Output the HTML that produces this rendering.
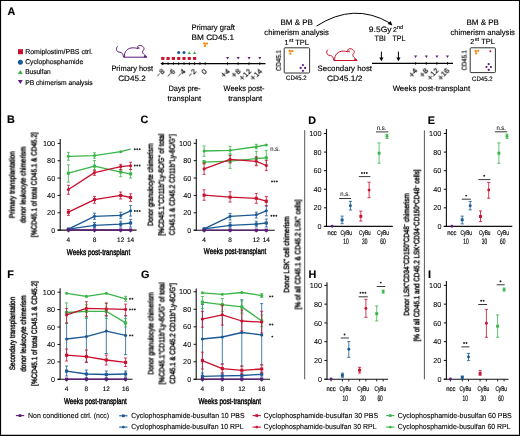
<!DOCTYPE html>
<html><head><meta charset="utf-8"><style>
html,body{margin:0;padding:0;background:#fff;}
svg{display:block;}
text{font-family:"Liberation Sans",sans-serif;fill:#000000;will-change:transform;text-rendering:geometricPrecision;stroke:#000;stroke-width:0.15px;}
.h{stroke-width:0.4px;}
.m{stroke-width:0.2px;}
.l{stroke-width:0.05px;}
.lg{stroke-width:0.1px;}
</style></head><body>
<svg xmlns="http://www.w3.org/2000/svg" width="520" height="436" viewBox="0 0 520 436">
<rect x="0" y="0" width="520" height="436" fill="#fff"/>
<text x="7.60" y="15.20" font-size="10.8" font-weight="bold" fill="#000" >A</text>
<rect x="18.00" y="49.20" width="5.00" height="5.00" fill="#c8102e"/>
<text x="25.20" y="54.30" font-size="7" textLength="67.50" lengthAdjust="spacingAndGlyphs" >Romiplostim/PBS ctrl.</text>
<circle cx="20.35" cy="62.30" r="2.5" fill="#1b5a96"/>
<text x="25.20" y="64.40" font-size="7" textLength="58.00" lengthAdjust="spacingAndGlyphs" >Cyclophosphamide</text>
<path d="M17.8,74.1 L22.9,74.1 L20.35,70.0 Z" fill="#3ab54a" stroke="none" stroke-width="1" />
<text x="25.20" y="74.30" font-size="7" textLength="25.50" lengthAdjust="spacingAndGlyphs" >Busulfan</text>
<path d="M17.9,79.9 L22.7,79.9 L20.3,84.1 Z" fill="#5b1a78" stroke="none" stroke-width="1" />
<text x="25.20" y="84.50" font-size="7" textLength="67.50" lengthAdjust="spacingAndGlyphs" >PB chimerism analysis</text>
<path d="M117.5,46.3 C116.0,48 116.0,51.4 118.4,51.9 C120.6,52.3 122.4,52.8 122.9,54.6 L123.6,57.2 L146.9,57.2 M124.3,57.2 C124.0,51.2 128.0,47.9 132.8,47.8 C135.0,47.8 136.6,48.2 137.9,48.7 C136.9,47.3 137.7,45.5 139.5,45.4 C141.4,45.3 142.7,46.3 143.6,47.4 C144.4,48.6 144.0,50.0 142.6,51.1 C142.3,52.4 142.9,53.3 143.6,54.0 L146.9,57.2 M138.7,47.1 L139.0,48.9" fill="none" stroke="#5b1a78" stroke-width="1.0" stroke-linejoin="round"/>
<path d="M144.2,55.0 L147.2,57.2 L143.8,57.2 Z" fill="#5b1a78" stroke="none" stroke-width="1" />
<text x="132.20" y="71.00" font-size="7.8" text-anchor="middle" textLength="41.50" lengthAdjust="spacingAndGlyphs" >Primary host</text>
<text x="132.00" y="80.60" font-size="7.8" text-anchor="middle" textLength="27.50" lengthAdjust="spacingAndGlyphs" >CD45.2</text>
<line x1="160.90" y1="63.60" x2="265.50" y2="63.60" stroke="#000" stroke-width="1.2" />
<path d="M160.4,63.6 L163.2,62.1 L163.2,65.1 Z" fill="#000" stroke="none" stroke-width="1" />
<line x1="162.80" y1="62.10" x2="162.80" y2="65.10" stroke="#000" stroke-width="0.8" />
<line x1="168.10" y1="62.10" x2="168.10" y2="65.10" stroke="#000" stroke-width="0.8" />
<line x1="173.40" y1="62.10" x2="173.40" y2="65.10" stroke="#000" stroke-width="0.8" />
<line x1="178.70" y1="62.10" x2="178.70" y2="65.10" stroke="#000" stroke-width="0.8" />
<line x1="184.00" y1="62.10" x2="184.00" y2="65.10" stroke="#000" stroke-width="0.8" />
<line x1="189.30" y1="62.10" x2="189.30" y2="65.10" stroke="#000" stroke-width="0.8" />
<line x1="194.60" y1="62.10" x2="194.60" y2="65.10" stroke="#000" stroke-width="0.8" />
<line x1="199.90" y1="62.10" x2="199.90" y2="65.10" stroke="#000" stroke-width="0.8" />
<line x1="205.20" y1="62.10" x2="205.20" y2="65.10" stroke="#000" stroke-width="0.8" />
<line x1="227.60" y1="62.10" x2="227.60" y2="65.10" stroke="#000" stroke-width="0.8" />
<line x1="238.20" y1="62.10" x2="238.20" y2="65.10" stroke="#000" stroke-width="0.8" />
<line x1="249.00" y1="62.10" x2="249.00" y2="65.10" stroke="#000" stroke-width="0.8" />
<line x1="259.80" y1="62.10" x2="259.80" y2="65.10" stroke="#000" stroke-width="0.8" />
<rect x="161.20" y="57.00" width="3.20" height="2.90" fill="#c8102e"/>
<rect x="166.50" y="57.00" width="3.20" height="2.90" fill="#c8102e"/>
<rect x="171.80" y="57.00" width="3.20" height="2.90" fill="#c8102e"/>
<rect x="177.10" y="57.00" width="3.20" height="2.90" fill="#c8102e"/>
<rect x="182.40" y="57.00" width="3.20" height="2.90" fill="#c8102e"/>
<rect x="187.70" y="57.00" width="3.20" height="2.90" fill="#c8102e"/>
<rect x="193.00" y="57.00" width="3.20" height="2.90" fill="#c8102e"/>
<circle cx="178.70" cy="52.60" r="1.5" fill="#1b5a96"/>
<circle cx="184.00" cy="52.60" r="1.5" fill="#1b5a96"/>
<path d="M187.70,54.0 L190.90,54.0 L189.30,51.2 Z" fill="#3ab54a" stroke="none" stroke-width="1" />
<path d="M193.00,54.0 L196.20,54.0 L194.60,51.2 Z" fill="#3ab54a" stroke="none" stroke-width="1" />
<path d="M226.10,57.0 L229.10,57.0 L227.60,59.6 Z" fill="#5b1a78" stroke="none" stroke-width="1" />
<path d="M236.70,57.0 L239.70,57.0 L238.20,59.6 Z" fill="#5b1a78" stroke="none" stroke-width="1" />
<path d="M247.50,57.0 L250.50,57.0 L249.00,59.6 Z" fill="#5b1a78" stroke="none" stroke-width="1" />
<path d="M258.30,57.0 L261.30,57.0 L259.80,59.6 Z" fill="#5b1a78" stroke="none" stroke-width="1" />
<text x="164.80" y="71.70" font-size="7.5" text-anchor="end" class="m" transform="rotate(-45 164.80 71.70)"><tspan>−</tspan><tspan dx="0.3">8</tspan></text>
<text x="175.40" y="71.70" font-size="7.5" text-anchor="end" class="m" transform="rotate(-45 175.40 71.70)"><tspan>−</tspan><tspan dx="0.3">6</tspan></text>
<text x="186.00" y="71.70" font-size="7.5" text-anchor="end" class="m" transform="rotate(-45 186.00 71.70)"><tspan>−</tspan><tspan dx="0.3">4</tspan></text>
<text x="196.60" y="71.70" font-size="7.5" text-anchor="end" class="m" transform="rotate(-45 196.60 71.70)"><tspan>−</tspan><tspan dx="0.3">2</tspan></text>
<text x="207.20" y="71.70" font-size="7.5" class="m" text-anchor="end" transform="rotate(-45 207.20 71.70)" >0</text>
<text x="230.20" y="71.60" font-size="7.4" text-anchor="end" class="m" transform="rotate(-45 230.20 71.60)"><tspan font-size="8.88" dy="0.6">+</tspan><tspan dx="0.2" dy="-0.6">4</tspan></text>
<text x="240.80" y="71.60" font-size="7.4" text-anchor="end" class="m" transform="rotate(-45 240.80 71.60)"><tspan font-size="8.88" dy="0.6">+</tspan><tspan dx="0.2" dy="-0.6">8</tspan></text>
<text x="251.60" y="71.60" font-size="7.4" text-anchor="end" class="m" transform="rotate(-45 251.60 71.60)"><tspan font-size="8.88" dy="0.6">+</tspan><tspan dx="0.2" dy="-0.6">12</tspan></text>
<text x="262.40" y="71.60" font-size="7.4" text-anchor="end" class="m" transform="rotate(-45 262.40 71.60)"><tspan font-size="8.88" dy="0.6">+</tspan><tspan dx="0.2" dy="-0.6">14</tspan></text>
<circle cx="204.30" cy="43.50" r="1.15" fill="#f58200"/>
<circle cx="207.10" cy="43.50" r="1.05" fill="#f58200"/>
<circle cx="204.90" cy="46.10" r="1.15" fill="#f58200"/>
<circle cx="205.70" cy="43.90" r="0.8" fill="#f58200"/>
<text x="213.20" y="30.20" font-size="7.8" text-anchor="middle" textLength="43.50" lengthAdjust="spacingAndGlyphs" >Primary graft</text>
<text x="212.80" y="40.20" font-size="7.8" text-anchor="middle" textLength="42.50" lengthAdjust="spacingAndGlyphs" >BM CD45.1</text>
<text x="184.50" y="90.80" font-size="7.8" text-anchor="middle" textLength="32.20" lengthAdjust="spacingAndGlyphs" >Days pre-</text>
<text x="184.30" y="100.80" font-size="7.8" text-anchor="middle" textLength="33.50" lengthAdjust="spacingAndGlyphs" >transplant</text>
<text x="244.00" y="90.80" font-size="7.8" text-anchor="middle" textLength="40.80" lengthAdjust="spacingAndGlyphs" >Weeks post-</text>
<text x="245.20" y="100.80" font-size="7.8" text-anchor="middle" textLength="34.00" lengthAdjust="spacingAndGlyphs" >transplant</text>
<text x="296.70" y="25.10" font-size="7.8" text-anchor="middle" textLength="32.50" lengthAdjust="spacingAndGlyphs" >BM &amp; PB</text>
<text x="296.60" y="34.90" font-size="7.8" text-anchor="middle" textLength="64.50" lengthAdjust="spacingAndGlyphs" >chimerism analysis</text>
<text x="284.60" y="44.60" font-size="7.2" >1</text>
<text x="289.00" y="41.60" font-size="5.0" textLength="4.20" lengthAdjust="spacingAndGlyphs" >st</text>
<text x="295.30" y="44.60" font-size="7.6" textLength="13.60" lengthAdjust="spacingAndGlyphs" >TPL</text>
<rect x="284.20" y="47.80" width="25.40" height="25.20" rx="0.8" fill="none" stroke="#333" stroke-width="1"/>
<circle cx="289.70" cy="51.00" r="1.15" fill="#f58200"/>
<circle cx="292.50" cy="51.00" r="1.05" fill="#f58200"/>
<circle cx="290.30" cy="53.60" r="1.15" fill="#f58200"/>
<circle cx="291.10" cy="51.40" r="0.8" fill="#f58200"/>
<circle cx="302.90" cy="65.00" r="1.1" fill="#5b1a78"/>
<circle cx="300.70" cy="67.90" r="1.1" fill="#5b1a78"/>
<circle cx="305.10" cy="67.90" r="1.1" fill="#5b1a78"/>
<circle cx="302.90" cy="70.80" r="1.1" fill="#5b1a78"/>
<text x="281.30" y="60.40" font-size="7.0" class="m" text-anchor="middle" textLength="21.00" lengthAdjust="spacingAndGlyphs" transform="rotate(-90 281.30 60.40)" >CD45.1</text>
<text x="296.30" y="79.80" font-size="6.5" text-anchor="middle" textLength="20.50" lengthAdjust="spacingAndGlyphs" >CD45.2</text>
<g transform="translate(210.3,3.3)">
<path d="M117.5,46.3 C116.0,48 116.0,51.4 118.4,51.9 C120.6,52.3 122.4,52.8 122.9,54.6 L123.6,57.2 L146.9,57.2 M124.3,57.2 C124.0,51.2 128.0,47.9 132.8,47.8 C135.0,47.8 136.6,48.2 137.9,48.7 C136.9,47.3 137.7,45.5 139.5,45.4 C141.4,45.3 142.7,46.3 143.6,47.4 C144.4,48.6 144.0,50.0 142.6,51.1 C142.3,52.4 142.9,53.3 143.6,54.0 L146.9,57.2 M138.7,47.1 L139.0,48.9" fill="none" stroke="#c8102e" stroke-width="1.0" stroke-linejoin="round"/>
<path d="M144.2,55.0 L147.2,57.2 L143.8,57.2 Z" fill="#c8102e" stroke="none" stroke-width="1" />
</g>
<text x="344.80" y="71.20" font-size="7.8" text-anchor="middle" textLength="54.50" lengthAdjust="spacingAndGlyphs" >Secondary host</text>
<text x="344.80" y="80.80" font-size="7.8" text-anchor="middle" textLength="35.50" lengthAdjust="spacingAndGlyphs" >CD45.1/2</text>
<path d="M316.6,26.0 Q354,2.0 389.8,23.0" fill="none" stroke="#000" stroke-width="1.0" />
<path d="M392.4,25.6 L387.6,23.9 L390.6,20.9 Z" fill="#000" stroke="none" stroke-width="1" />
<text x="380.20" y="31.80" font-size="7.8" text-anchor="middle" textLength="22.70" lengthAdjust="spacingAndGlyphs" >9.5Gy</text>
<text x="393.0" y="31.8" font-size="7" fill="#000000">2<tspan font-size="5.4" dy="-3.0">nd</tspan></text>
<text x="380.20" y="41.20" font-size="7.8" text-anchor="middle" textLength="11.30" lengthAdjust="spacingAndGlyphs" >TBI</text>
<text x="399.00" y="41.20" font-size="7.8" text-anchor="middle" textLength="13.00" lengthAdjust="spacingAndGlyphs" >TPL</text>
<line x1="381.40" y1="51.60" x2="381.40" y2="58.50" stroke="#000" stroke-width="1.0" />
<path d="M379.30,57.6 L383.50,57.6 L381.40,61.2 Z" fill="#000" stroke="none" stroke-width="1" />
<line x1="398.40" y1="51.60" x2="398.40" y2="58.50" stroke="#000" stroke-width="1.0" />
<path d="M396.30,57.6 L400.50,57.6 L398.40,61.2 Z" fill="#000" stroke="none" stroke-width="1" />
<line x1="372.00" y1="63.30" x2="453.00" y2="63.30" stroke="#000" stroke-width="1.2" />
<line x1="415.60" y1="62.00" x2="415.60" y2="64.80" stroke="#000" stroke-width="0.8" />
<path d="M414.10,55.4 L417.10,55.4 L415.60,58.0 Z" fill="#5b1a78" stroke="none" stroke-width="1" />
<line x1="426.30" y1="62.00" x2="426.30" y2="64.80" stroke="#000" stroke-width="0.8" />
<path d="M424.80,55.4 L427.80,55.4 L426.30,58.0 Z" fill="#5b1a78" stroke="none" stroke-width="1" />
<line x1="436.90" y1="62.00" x2="436.90" y2="64.80" stroke="#000" stroke-width="0.8" />
<path d="M435.40,55.4 L438.40,55.4 L436.90,58.0 Z" fill="#5b1a78" stroke="none" stroke-width="1" />
<line x1="447.50" y1="62.00" x2="447.50" y2="64.80" stroke="#000" stroke-width="0.8" />
<path d="M446.00,55.4 L449.00,55.4 L447.50,58.0 Z" fill="#5b1a78" stroke="none" stroke-width="1" />
<text x="418.20" y="71.40" font-size="7.4" text-anchor="end" class="m" transform="rotate(-45 418.20 71.40)"><tspan font-size="8.88" dy="0.6">+</tspan><tspan dx="0.2" dy="-0.6">4</tspan></text>
<text x="428.90" y="71.40" font-size="7.4" text-anchor="end" class="m" transform="rotate(-45 428.90 71.40)"><tspan font-size="8.88" dy="0.6">+</tspan><tspan dx="0.2" dy="-0.6">8</tspan></text>
<text x="439.50" y="71.40" font-size="7.4" text-anchor="end" class="m" transform="rotate(-45 439.50 71.40)"><tspan font-size="8.88" dy="0.6">+</tspan><tspan dx="0.2" dy="-0.6">12</tspan></text>
<text x="450.10" y="71.40" font-size="7.4" text-anchor="end" class="m" transform="rotate(-45 450.10 71.40)"><tspan font-size="8.88" dy="0.6">+</tspan><tspan dx="0.2" dy="-0.6">16</tspan></text>
<text x="431.40" y="90.60" font-size="7.8" text-anchor="middle" textLength="77.50" lengthAdjust="spacingAndGlyphs" >Weeks post-transplant</text>
<text x="482.70" y="25.10" font-size="7.8" text-anchor="middle" textLength="32.50" lengthAdjust="spacingAndGlyphs" >BM &amp; PB</text>
<text x="482.70" y="35.00" font-size="7.8" text-anchor="middle" textLength="64.50" lengthAdjust="spacingAndGlyphs" >chimerism analysis</text>
<text x="470.30" y="44.40" font-size="7.2" >2</text>
<text x="474.70" y="41.40" font-size="5.0" textLength="4.20" lengthAdjust="spacingAndGlyphs" >st</text>
<text x="481.20" y="44.40" font-size="7.6" textLength="13.60" lengthAdjust="spacingAndGlyphs" >TPL</text>
<rect x="470.20" y="47.80" width="25.20" height="24.80" rx="0.8" fill="none" stroke="#333" stroke-width="1"/>
<circle cx="475.50" cy="50.80" r="1.15" fill="#f58200"/>
<circle cx="478.30" cy="50.80" r="1.05" fill="#f58200"/>
<circle cx="476.10" cy="53.40" r="1.15" fill="#f58200"/>
<circle cx="476.90" cy="51.20" r="0.8" fill="#f58200"/>
<circle cx="490.40" cy="51.30" r="1.0" fill="#c8102e"/>
<circle cx="488.70" cy="64.10" r="1.1" fill="#5b1a78"/>
<circle cx="486.50" cy="67.00" r="1.1" fill="#5b1a78"/>
<circle cx="490.90" cy="67.00" r="1.1" fill="#5b1a78"/>
<circle cx="488.70" cy="69.90" r="1.1" fill="#5b1a78"/>
<text x="466.90" y="60.30" font-size="7.0" class="m" text-anchor="middle" textLength="20.50" lengthAdjust="spacingAndGlyphs" transform="rotate(-90 466.90 60.30)" >CD45.1</text>
<text x="482.30" y="80.60" font-size="6.5" text-anchor="middle" textLength="20.50" lengthAdjust="spacingAndGlyphs" >CD45.2</text>
<text x="7.00" y="123.30" font-size="10.8" font-weight="bold" fill="#000" >B</text>
<text x="14.40" y="184.80" font-size="7.8" class="h" text-anchor="middle" textLength="66.90" lengthAdjust="spacingAndGlyphs" transform="rotate(-90 14.40 184.80)" >Primary transplantation</text>
<text x="25.40" y="184.80" font-size="7.8" class="h" text-anchor="middle" textLength="76.20" lengthAdjust="spacingAndGlyphs" transform="rotate(-90 25.40 184.80)" >donor leukocyte chimerism</text>
<text x="36.40" y="184.80" font-size="7.8" class="h" text-anchor="middle" textLength="104.60" lengthAdjust="spacingAndGlyphs" transform="rotate(-90 36.40 184.80)" >[%CD45.1 of total CD45.1 &amp; CD45.2]</text>
<line x1="60.20" y1="139.10" x2="60.20" y2="230.60" stroke="#111111" stroke-width="1.1" />
<line x1="57.60" y1="230.10" x2="60.20" y2="230.10" stroke="#111111" stroke-width="1.0" />
<text x="55.20" y="232.70" font-size="7.2" class="l" text-anchor="end" textLength="4.00" lengthAdjust="spacingAndGlyphs" >0</text>
<line x1="57.60" y1="212.76" x2="60.20" y2="212.76" stroke="#111111" stroke-width="1.0" />
<text x="55.20" y="215.36" font-size="7.2" class="l" text-anchor="end" textLength="8.10" lengthAdjust="spacingAndGlyphs" >20</text>
<line x1="57.60" y1="195.42" x2="60.20" y2="195.42" stroke="#111111" stroke-width="1.0" />
<text x="55.20" y="198.02" font-size="7.2" class="l" text-anchor="end" textLength="8.10" lengthAdjust="spacingAndGlyphs" >40</text>
<line x1="57.60" y1="178.08" x2="60.20" y2="178.08" stroke="#111111" stroke-width="1.0" />
<text x="55.20" y="180.68" font-size="7.2" class="l" text-anchor="end" textLength="8.10" lengthAdjust="spacingAndGlyphs" >60</text>
<line x1="57.60" y1="160.74" x2="60.20" y2="160.74" stroke="#111111" stroke-width="1.0" />
<text x="55.20" y="163.34" font-size="7.2" class="l" text-anchor="end" textLength="8.10" lengthAdjust="spacingAndGlyphs" >80</text>
<line x1="57.60" y1="143.40" x2="60.20" y2="143.40" stroke="#111111" stroke-width="1.0" />
<text x="55.20" y="146.00" font-size="7.2" class="l" text-anchor="end" textLength="12.30" lengthAdjust="spacingAndGlyphs" >100</text>
<line x1="57.60" y1="230.10" x2="136.60" y2="230.10" stroke="#111111" stroke-width="1.1" />
<line x1="68.40" y1="230.10" x2="68.40" y2="232.30" stroke="#111111" stroke-width="0.9" />
<line x1="94.50" y1="230.10" x2="94.50" y2="232.30" stroke="#111111" stroke-width="0.9" />
<line x1="120.70" y1="230.10" x2="120.70" y2="232.30" stroke="#111111" stroke-width="0.9" />
<line x1="130.60" y1="230.10" x2="130.60" y2="232.30" stroke="#111111" stroke-width="0.9" />
<text x="68.40" y="241.50" font-size="6.6" text-anchor="middle" textLength="3.60" lengthAdjust="spacingAndGlyphs" >4</text>
<text x="94.50" y="241.50" font-size="6.6" text-anchor="middle" textLength="3.60" lengthAdjust="spacingAndGlyphs" >8</text>
<text x="120.70" y="241.50" font-size="6.6" text-anchor="middle" textLength="7.20" lengthAdjust="spacingAndGlyphs" >12</text>
<text x="130.60" y="241.50" font-size="6.6" text-anchor="middle" textLength="7.20" lengthAdjust="spacingAndGlyphs" >14</text>
<text x="98.50" y="254.60" font-size="8.4" class="h" text-anchor="middle" textLength="63.40" lengthAdjust="spacingAndGlyphs" >Weeks post-transplant</text>
<path d="M68.40,229.10 L94.50,225.30 L120.70,224.20 L130.60,223.00" fill="none" stroke="#1b5a96" stroke-width="1.3" stroke-linejoin="round"/>
<line x1="94.50" y1="222.50" x2="94.50" y2="227.60" stroke="#1b5a96" stroke-width="0.8" />
<line x1="93.00" y1="222.50" x2="96.00" y2="222.50" stroke="#1b5a96" stroke-width="0.8" />
<line x1="93.00" y1="227.60" x2="96.00" y2="227.60" stroke="#1b5a96" stroke-width="0.8" />
<line x1="120.70" y1="221.10" x2="120.70" y2="227.10" stroke="#1b5a96" stroke-width="0.8" />
<line x1="119.20" y1="221.10" x2="122.20" y2="221.10" stroke="#1b5a96" stroke-width="0.8" />
<line x1="119.20" y1="227.10" x2="122.20" y2="227.10" stroke="#1b5a96" stroke-width="0.8" />
<line x1="130.60" y1="219.30" x2="130.60" y2="227.10" stroke="#1b5a96" stroke-width="0.8" />
<line x1="129.10" y1="219.30" x2="132.10" y2="219.30" stroke="#1b5a96" stroke-width="0.8" />
<line x1="129.10" y1="227.10" x2="132.10" y2="227.10" stroke="#1b5a96" stroke-width="0.8" />
<rect x="66.85" y="227.55" width="3.10" height="3.10" fill="#1b5a96"/>
<rect x="92.95" y="223.75" width="3.10" height="3.10" fill="#1b5a96"/>
<rect x="119.15" y="222.65" width="3.10" height="3.10" fill="#1b5a96"/>
<rect x="129.05" y="221.45" width="3.10" height="3.10" fill="#1b5a96"/>
<path d="M68.40,229.10 L94.50,216.30 L120.70,215.40 L130.60,210.80" fill="none" stroke="#1b5a96" stroke-width="1.3" stroke-linejoin="round"/>
<line x1="94.50" y1="213.20" x2="94.50" y2="219.30" stroke="#1b5a96" stroke-width="0.8" />
<line x1="93.00" y1="213.20" x2="96.00" y2="213.20" stroke="#1b5a96" stroke-width="0.8" />
<line x1="93.00" y1="219.30" x2="96.00" y2="219.30" stroke="#1b5a96" stroke-width="0.8" />
<line x1="120.70" y1="212.20" x2="120.70" y2="218.40" stroke="#1b5a96" stroke-width="0.8" />
<line x1="119.20" y1="212.20" x2="122.20" y2="212.20" stroke="#1b5a96" stroke-width="0.8" />
<line x1="119.20" y1="218.40" x2="122.20" y2="218.40" stroke="#1b5a96" stroke-width="0.8" />
<line x1="130.60" y1="205.60" x2="130.60" y2="216.10" stroke="#1b5a96" stroke-width="0.8" />
<line x1="129.10" y1="205.60" x2="132.10" y2="205.60" stroke="#1b5a96" stroke-width="0.8" />
<line x1="129.10" y1="216.10" x2="132.10" y2="216.10" stroke="#1b5a96" stroke-width="0.8" />
<circle cx="68.40" cy="229.10" r="1.55" fill="#1b5a96"/>
<circle cx="94.50" cy="216.30" r="1.55" fill="#1b5a96"/>
<circle cx="120.70" cy="215.40" r="1.55" fill="#1b5a96"/>
<circle cx="130.60" cy="210.80" r="1.55" fill="#1b5a96"/>
<path d="M68.40,173.20 L94.50,166.10 L120.70,172.10 L130.60,173.90" fill="none" stroke="#3ab54a" stroke-width="1.3" stroke-linejoin="round"/>
<line x1="68.40" y1="164.80" x2="68.40" y2="182.20" stroke="#3ab54a" stroke-width="0.8" />
<line x1="66.90" y1="164.80" x2="69.90" y2="164.80" stroke="#3ab54a" stroke-width="0.8" />
<line x1="66.90" y1="182.20" x2="69.90" y2="182.20" stroke="#3ab54a" stroke-width="0.8" />
<line x1="94.50" y1="160.60" x2="94.50" y2="169.80" stroke="#3ab54a" stroke-width="0.8" />
<line x1="93.00" y1="160.60" x2="96.00" y2="160.60" stroke="#3ab54a" stroke-width="0.8" />
<line x1="93.00" y1="169.80" x2="96.00" y2="169.80" stroke="#3ab54a" stroke-width="0.8" />
<line x1="120.70" y1="169.50" x2="120.70" y2="176.70" stroke="#3ab54a" stroke-width="0.8" />
<line x1="119.20" y1="169.50" x2="122.20" y2="169.50" stroke="#3ab54a" stroke-width="0.8" />
<line x1="119.20" y1="176.70" x2="122.20" y2="176.70" stroke="#3ab54a" stroke-width="0.8" />
<line x1="130.60" y1="169.50" x2="130.60" y2="178.00" stroke="#3ab54a" stroke-width="0.8" />
<line x1="129.10" y1="169.50" x2="132.10" y2="169.50" stroke="#3ab54a" stroke-width="0.8" />
<line x1="129.10" y1="178.00" x2="132.10" y2="178.00" stroke="#3ab54a" stroke-width="0.8" />
<rect x="66.85" y="171.65" width="3.10" height="3.10" fill="#3ab54a"/>
<rect x="92.95" y="164.55" width="3.10" height="3.10" fill="#3ab54a"/>
<rect x="119.15" y="170.55" width="3.10" height="3.10" fill="#3ab54a"/>
<rect x="129.05" y="172.35" width="3.10" height="3.10" fill="#3ab54a"/>
<path d="M68.40,156.30 L94.50,155.60 L120.70,151.70 L130.60,149.20" fill="none" stroke="#3ab54a" stroke-width="1.3" stroke-linejoin="round"/>
<line x1="68.40" y1="152.40" x2="68.40" y2="160.20" stroke="#3ab54a" stroke-width="0.8" />
<line x1="66.90" y1="152.40" x2="69.90" y2="152.40" stroke="#3ab54a" stroke-width="0.8" />
<line x1="66.90" y1="160.20" x2="69.90" y2="160.20" stroke="#3ab54a" stroke-width="0.8" />
<line x1="94.50" y1="152.80" x2="94.50" y2="158.30" stroke="#3ab54a" stroke-width="0.8" />
<line x1="93.00" y1="152.80" x2="96.00" y2="152.80" stroke="#3ab54a" stroke-width="0.8" />
<line x1="93.00" y1="158.30" x2="96.00" y2="158.30" stroke="#3ab54a" stroke-width="0.8" />
<circle cx="68.40" cy="156.30" r="1.55" fill="#3ab54a"/>
<circle cx="94.50" cy="155.60" r="1.55" fill="#3ab54a"/>
<circle cx="120.70" cy="151.70" r="1.55" fill="#3ab54a"/>
<path d="M68.40,212.20 L94.50,199.60 L120.70,195.40 L130.60,197.50" fill="none" stroke="#c8102e" stroke-width="1.3" stroke-linejoin="round"/>
<line x1="68.40" y1="209.50" x2="68.40" y2="215.40" stroke="#c8102e" stroke-width="0.8" />
<line x1="66.90" y1="209.50" x2="69.90" y2="209.50" stroke="#c8102e" stroke-width="0.8" />
<line x1="66.90" y1="215.40" x2="69.90" y2="215.40" stroke="#c8102e" stroke-width="0.8" />
<line x1="94.50" y1="196.40" x2="94.50" y2="203.30" stroke="#c8102e" stroke-width="0.8" />
<line x1="93.00" y1="196.40" x2="96.00" y2="196.40" stroke="#c8102e" stroke-width="0.8" />
<line x1="93.00" y1="203.30" x2="96.00" y2="203.30" stroke="#c8102e" stroke-width="0.8" />
<line x1="120.70" y1="192.00" x2="120.70" y2="199.00" stroke="#c8102e" stroke-width="0.8" />
<line x1="119.20" y1="192.00" x2="122.20" y2="192.00" stroke="#c8102e" stroke-width="0.8" />
<line x1="119.20" y1="199.00" x2="122.20" y2="199.00" stroke="#c8102e" stroke-width="0.8" />
<line x1="130.60" y1="193.80" x2="130.60" y2="201.40" stroke="#c8102e" stroke-width="0.8" />
<line x1="129.10" y1="193.80" x2="132.10" y2="193.80" stroke="#c8102e" stroke-width="0.8" />
<line x1="129.10" y1="201.40" x2="132.10" y2="201.40" stroke="#c8102e" stroke-width="0.8" />
<rect x="66.85" y="210.65" width="3.10" height="3.10" fill="#c8102e"/>
<rect x="92.95" y="198.05" width="3.10" height="3.10" fill="#c8102e"/>
<rect x="119.15" y="193.85" width="3.10" height="3.10" fill="#c8102e"/>
<rect x="129.05" y="195.95" width="3.10" height="3.10" fill="#c8102e"/>
<path d="M68.40,189.50 L94.50,172.60 L120.70,166.60 L130.60,165.70" fill="none" stroke="#c8102e" stroke-width="1.3" stroke-linejoin="round"/>
<line x1="68.40" y1="185.30" x2="68.40" y2="194.30" stroke="#c8102e" stroke-width="0.8" />
<line x1="66.90" y1="185.30" x2="69.90" y2="185.30" stroke="#c8102e" stroke-width="0.8" />
<line x1="66.90" y1="194.30" x2="69.90" y2="194.30" stroke="#c8102e" stroke-width="0.8" />
<line x1="94.50" y1="170.30" x2="94.50" y2="175.30" stroke="#c8102e" stroke-width="0.8" />
<line x1="93.00" y1="170.30" x2="96.00" y2="170.30" stroke="#c8102e" stroke-width="0.8" />
<line x1="93.00" y1="175.30" x2="96.00" y2="175.30" stroke="#c8102e" stroke-width="0.8" />
<line x1="120.70" y1="164.30" x2="120.70" y2="169.80" stroke="#c8102e" stroke-width="0.8" />
<line x1="119.20" y1="164.30" x2="122.20" y2="164.30" stroke="#c8102e" stroke-width="0.8" />
<line x1="119.20" y1="169.80" x2="122.20" y2="169.80" stroke="#c8102e" stroke-width="0.8" />
<line x1="130.60" y1="162.30" x2="130.60" y2="169.40" stroke="#c8102e" stroke-width="0.8" />
<line x1="129.10" y1="162.30" x2="132.10" y2="162.30" stroke="#c8102e" stroke-width="0.8" />
<line x1="129.10" y1="169.40" x2="132.10" y2="169.40" stroke="#c8102e" stroke-width="0.8" />
<circle cx="68.40" cy="189.50" r="1.55" fill="#c8102e"/>
<circle cx="94.50" cy="172.60" r="1.55" fill="#c8102e"/>
<circle cx="120.70" cy="166.60" r="1.55" fill="#c8102e"/>
<circle cx="130.60" cy="165.70" r="1.55" fill="#c8102e"/>
<path d="M68.40,230.00 L94.50,230.00 L120.70,230.00 L130.60,230.00" fill="none" stroke="#5b1a78" stroke-width="1.3" stroke-linejoin="round"/>
<rect x="66.85" y="228.45" width="3.10" height="3.10" fill="#5b1a78"/>
<rect x="92.95" y="228.45" width="3.10" height="3.10" fill="#5b1a78"/>
<rect x="119.15" y="228.45" width="3.10" height="3.10" fill="#5b1a78"/>
<rect x="129.05" y="228.45" width="3.10" height="3.10" fill="#5b1a78"/>
<circle cx="134.80" cy="149.20" r="0.95" fill="#222"/>
<circle cx="137.25" cy="149.20" r="0.95" fill="#222"/>
<circle cx="139.70" cy="149.20" r="0.95" fill="#222"/>
<circle cx="134.80" cy="165.50" r="0.95" fill="#222"/>
<circle cx="137.25" cy="165.50" r="0.95" fill="#222"/>
<circle cx="139.70" cy="165.50" r="0.95" fill="#222"/>
<circle cx="134.80" cy="211.00" r="0.95" fill="#222"/>
<circle cx="137.25" cy="211.00" r="0.95" fill="#222"/>
<circle cx="139.70" cy="211.00" r="0.95" fill="#222"/>
<text x="140.60" y="123.20" font-size="10.8" font-weight="bold" fill="#000" >C</text>
<text x="152.70" y="184.80" font-size="7.8" class="h" text-anchor="middle" textLength="82.50" lengthAdjust="spacingAndGlyphs" transform="rotate(-90 152.70 184.80)" >Donor granulocyte chimerism</text>
<text x="163.70" y="184.80" font-size="7.8" class="h" text-anchor="middle" textLength="101.90" lengthAdjust="spacingAndGlyphs" transform="rotate(-90 163.70 184.80)" >[%CD45.1<tspan font-size="4.8" dy="-2.5">+</tspan><tspan dy="2.5">CD11b</tspan><tspan font-size="4.8" dy="-2.5">+</tspan><tspan dy="2.5">Ly-6C/G</tspan><tspan font-size="4.8" dy="-2.5">+</tspan><tspan dy="2.5"> of total</tspan></text>
<text x="174.50" y="184.80" font-size="7.8" class="h" text-anchor="middle" textLength="100.80" lengthAdjust="spacingAndGlyphs" transform="rotate(-90 174.50 184.80)" >CD45.1 &amp; CD45.2 CD11b<tspan font-size="4.8" dy="-2.5">+</tspan><tspan dy="2.5">Ly-6C/G</tspan><tspan font-size="4.8" dy="-2.5">+</tspan><tspan dy="2.5">]</tspan></text>
<line x1="196.30" y1="139.00" x2="196.30" y2="230.70" stroke="#111111" stroke-width="1.1" />
<line x1="193.70" y1="230.20" x2="196.30" y2="230.20" stroke="#111111" stroke-width="1.0" />
<text x="191.30" y="232.80" font-size="7.2" class="l" text-anchor="end" textLength="4.00" lengthAdjust="spacingAndGlyphs" >0</text>
<line x1="193.70" y1="212.82" x2="196.30" y2="212.82" stroke="#111111" stroke-width="1.0" />
<text x="191.30" y="215.42" font-size="7.2" class="l" text-anchor="end" textLength="8.10" lengthAdjust="spacingAndGlyphs" >20</text>
<line x1="193.70" y1="195.44" x2="196.30" y2="195.44" stroke="#111111" stroke-width="1.0" />
<text x="191.30" y="198.04" font-size="7.2" class="l" text-anchor="end" textLength="8.10" lengthAdjust="spacingAndGlyphs" >40</text>
<line x1="193.70" y1="178.06" x2="196.30" y2="178.06" stroke="#111111" stroke-width="1.0" />
<text x="191.30" y="180.66" font-size="7.2" class="l" text-anchor="end" textLength="8.10" lengthAdjust="spacingAndGlyphs" >60</text>
<line x1="193.70" y1="160.68" x2="196.30" y2="160.68" stroke="#111111" stroke-width="1.0" />
<text x="191.30" y="163.28" font-size="7.2" class="l" text-anchor="end" textLength="8.10" lengthAdjust="spacingAndGlyphs" >80</text>
<line x1="193.70" y1="143.30" x2="196.30" y2="143.30" stroke="#111111" stroke-width="1.0" />
<text x="191.30" y="145.90" font-size="7.2" class="l" text-anchor="end" textLength="12.30" lengthAdjust="spacingAndGlyphs" >100</text>
<line x1="193.70" y1="230.20" x2="274.80" y2="230.20" stroke="#111111" stroke-width="1.1" />
<line x1="204.10" y1="230.20" x2="204.10" y2="232.40" stroke="#111111" stroke-width="0.9" />
<line x1="230.10" y1="230.20" x2="230.10" y2="232.40" stroke="#111111" stroke-width="0.9" />
<line x1="256.30" y1="230.20" x2="256.30" y2="232.40" stroke="#111111" stroke-width="0.9" />
<line x1="266.30" y1="230.20" x2="266.30" y2="232.40" stroke="#111111" stroke-width="0.9" />
<text x="204.10" y="241.60" font-size="6.6" text-anchor="middle" textLength="3.60" lengthAdjust="spacingAndGlyphs" >4</text>
<text x="230.10" y="241.60" font-size="6.6" text-anchor="middle" textLength="3.60" lengthAdjust="spacingAndGlyphs" >8</text>
<text x="256.30" y="241.60" font-size="6.6" text-anchor="middle" textLength="7.20" lengthAdjust="spacingAndGlyphs" >12</text>
<text x="266.30" y="241.60" font-size="6.6" text-anchor="middle" textLength="7.20" lengthAdjust="spacingAndGlyphs" >14</text>
<text x="235.00" y="254.00" font-size="8.4" class="h" text-anchor="middle" textLength="62.30" lengthAdjust="spacingAndGlyphs" >Weeks post-transplant</text>
<path d="M204.10,228.90 L230.10,225.30 L256.30,224.20 L266.30,223.00" fill="none" stroke="#1b5a96" stroke-width="1.3" stroke-linejoin="round"/>
<line x1="230.10" y1="222.40" x2="230.10" y2="228.00" stroke="#1b5a96" stroke-width="0.8" />
<line x1="228.60" y1="222.40" x2="231.60" y2="222.40" stroke="#1b5a96" stroke-width="0.8" />
<line x1="228.60" y1="228.00" x2="231.60" y2="228.00" stroke="#1b5a96" stroke-width="0.8" />
<line x1="256.30" y1="221.20" x2="256.30" y2="227.00" stroke="#1b5a96" stroke-width="0.8" />
<line x1="254.80" y1="221.20" x2="257.80" y2="221.20" stroke="#1b5a96" stroke-width="0.8" />
<line x1="254.80" y1="227.00" x2="257.80" y2="227.00" stroke="#1b5a96" stroke-width="0.8" />
<line x1="266.30" y1="219.10" x2="266.30" y2="227.00" stroke="#1b5a96" stroke-width="0.8" />
<line x1="264.80" y1="219.10" x2="267.80" y2="219.10" stroke="#1b5a96" stroke-width="0.8" />
<line x1="264.80" y1="227.00" x2="267.80" y2="227.00" stroke="#1b5a96" stroke-width="0.8" />
<rect x="202.55" y="227.35" width="3.10" height="3.10" fill="#1b5a96"/>
<rect x="228.55" y="223.75" width="3.10" height="3.10" fill="#1b5a96"/>
<rect x="254.75" y="222.65" width="3.10" height="3.10" fill="#1b5a96"/>
<rect x="264.75" y="221.45" width="3.10" height="3.10" fill="#1b5a96"/>
<path d="M204.10,228.90 L230.10,216.40 L256.30,214.80 L266.30,210.80" fill="none" stroke="#1b5a96" stroke-width="1.3" stroke-linejoin="round"/>
<line x1="230.10" y1="213.40" x2="230.10" y2="220.00" stroke="#1b5a96" stroke-width="0.8" />
<line x1="228.60" y1="213.40" x2="231.60" y2="213.40" stroke="#1b5a96" stroke-width="0.8" />
<line x1="228.60" y1="220.00" x2="231.60" y2="220.00" stroke="#1b5a96" stroke-width="0.8" />
<line x1="256.30" y1="212.20" x2="256.30" y2="218.00" stroke="#1b5a96" stroke-width="0.8" />
<line x1="254.80" y1="212.20" x2="257.80" y2="212.20" stroke="#1b5a96" stroke-width="0.8" />
<line x1="254.80" y1="218.00" x2="257.80" y2="218.00" stroke="#1b5a96" stroke-width="0.8" />
<line x1="266.30" y1="206.00" x2="266.30" y2="215.80" stroke="#1b5a96" stroke-width="0.8" />
<line x1="264.80" y1="206.00" x2="267.80" y2="206.00" stroke="#1b5a96" stroke-width="0.8" />
<line x1="264.80" y1="215.80" x2="267.80" y2="215.80" stroke="#1b5a96" stroke-width="0.8" />
<circle cx="204.10" cy="228.90" r="1.55" fill="#1b5a96"/>
<circle cx="230.10" cy="216.40" r="1.55" fill="#1b5a96"/>
<circle cx="256.30" cy="214.80" r="1.55" fill="#1b5a96"/>
<circle cx="266.30" cy="210.80" r="1.55" fill="#1b5a96"/>
<path d="M204.10,162.20 L230.10,161.10 L256.30,158.50 L266.30,157.80" fill="none" stroke="#3ab54a" stroke-width="1.3" stroke-linejoin="round"/>
<line x1="204.10" y1="160.50" x2="204.10" y2="164.00" stroke="#3ab54a" stroke-width="0.8" />
<line x1="202.60" y1="160.50" x2="205.60" y2="160.50" stroke="#3ab54a" stroke-width="0.8" />
<line x1="202.60" y1="164.00" x2="205.60" y2="164.00" stroke="#3ab54a" stroke-width="0.8" />
<line x1="230.10" y1="154.20" x2="230.10" y2="168.40" stroke="#3ab54a" stroke-width="0.8" />
<line x1="228.60" y1="154.20" x2="231.60" y2="154.20" stroke="#3ab54a" stroke-width="0.8" />
<line x1="228.60" y1="168.40" x2="231.60" y2="168.40" stroke="#3ab54a" stroke-width="0.8" />
<line x1="256.30" y1="151.30" x2="256.30" y2="165.00" stroke="#3ab54a" stroke-width="0.8" />
<line x1="254.80" y1="151.30" x2="257.80" y2="151.30" stroke="#3ab54a" stroke-width="0.8" />
<line x1="254.80" y1="165.00" x2="257.80" y2="165.00" stroke="#3ab54a" stroke-width="0.8" />
<line x1="266.30" y1="150.40" x2="266.30" y2="165.00" stroke="#3ab54a" stroke-width="0.8" />
<line x1="264.80" y1="150.40" x2="267.80" y2="150.40" stroke="#3ab54a" stroke-width="0.8" />
<line x1="264.80" y1="165.00" x2="267.80" y2="165.00" stroke="#3ab54a" stroke-width="0.8" />
<rect x="202.55" y="160.65" width="3.10" height="3.10" fill="#3ab54a"/>
<rect x="228.55" y="159.55" width="3.10" height="3.10" fill="#3ab54a"/>
<rect x="254.75" y="156.95" width="3.10" height="3.10" fill="#3ab54a"/>
<rect x="264.75" y="156.25" width="3.10" height="3.10" fill="#3ab54a"/>
<path d="M204.10,151.00 L230.10,150.30 L256.30,146.70 L266.30,145.00" fill="none" stroke="#3ab54a" stroke-width="1.3" stroke-linejoin="round"/>
<line x1="204.10" y1="146.00" x2="204.10" y2="156.30" stroke="#3ab54a" stroke-width="0.8" />
<line x1="202.60" y1="146.00" x2="205.60" y2="146.00" stroke="#3ab54a" stroke-width="0.8" />
<line x1="202.60" y1="156.30" x2="205.60" y2="156.30" stroke="#3ab54a" stroke-width="0.8" />
<line x1="230.10" y1="146.40" x2="230.10" y2="153.80" stroke="#3ab54a" stroke-width="0.8" />
<line x1="228.60" y1="146.40" x2="231.60" y2="146.40" stroke="#3ab54a" stroke-width="0.8" />
<line x1="228.60" y1="153.80" x2="231.60" y2="153.80" stroke="#3ab54a" stroke-width="0.8" />
<line x1="256.30" y1="144.30" x2="256.30" y2="148.80" stroke="#3ab54a" stroke-width="0.8" />
<line x1="254.80" y1="144.30" x2="257.80" y2="144.30" stroke="#3ab54a" stroke-width="0.8" />
<line x1="254.80" y1="148.80" x2="257.80" y2="148.80" stroke="#3ab54a" stroke-width="0.8" />
<circle cx="204.10" cy="151.00" r="1.55" fill="#3ab54a"/>
<circle cx="230.10" cy="150.30" r="1.55" fill="#3ab54a"/>
<circle cx="256.30" cy="146.70" r="1.55" fill="#3ab54a"/>
<circle cx="266.30" cy="145.00" r="1.55" fill="#3ab54a"/>
<path d="M204.10,195.20 L230.10,197.10 L256.30,198.30 L266.30,201.20" fill="none" stroke="#c8102e" stroke-width="1.3" stroke-linejoin="round"/>
<line x1="204.10" y1="189.80" x2="204.10" y2="200.30" stroke="#c8102e" stroke-width="0.8" />
<line x1="202.60" y1="189.80" x2="205.60" y2="189.80" stroke="#c8102e" stroke-width="0.8" />
<line x1="202.60" y1="200.30" x2="205.60" y2="200.30" stroke="#c8102e" stroke-width="0.8" />
<line x1="230.10" y1="191.70" x2="230.10" y2="202.10" stroke="#c8102e" stroke-width="0.8" />
<line x1="228.60" y1="191.70" x2="231.60" y2="191.70" stroke="#c8102e" stroke-width="0.8" />
<line x1="228.60" y1="202.10" x2="231.60" y2="202.10" stroke="#c8102e" stroke-width="0.8" />
<line x1="256.30" y1="193.40" x2="256.30" y2="203.30" stroke="#c8102e" stroke-width="0.8" />
<line x1="254.80" y1="193.40" x2="257.80" y2="193.40" stroke="#c8102e" stroke-width="0.8" />
<line x1="254.80" y1="203.30" x2="257.80" y2="203.30" stroke="#c8102e" stroke-width="0.8" />
<line x1="266.30" y1="196.50" x2="266.30" y2="205.70" stroke="#c8102e" stroke-width="0.8" />
<line x1="264.80" y1="196.50" x2="267.80" y2="196.50" stroke="#c8102e" stroke-width="0.8" />
<line x1="264.80" y1="205.70" x2="267.80" y2="205.70" stroke="#c8102e" stroke-width="0.8" />
<rect x="202.55" y="193.65" width="3.10" height="3.10" fill="#c8102e"/>
<rect x="228.55" y="195.55" width="3.10" height="3.10" fill="#c8102e"/>
<rect x="254.75" y="196.75" width="3.10" height="3.10" fill="#c8102e"/>
<rect x="264.75" y="199.65" width="3.10" height="3.10" fill="#c8102e"/>
<path d="M204.10,168.90 L230.10,159.30 L256.30,161.30 L266.30,165.50" fill="none" stroke="#c8102e" stroke-width="1.3" stroke-linejoin="round"/>
<line x1="204.10" y1="163.00" x2="204.10" y2="174.40" stroke="#c8102e" stroke-width="0.8" />
<line x1="202.60" y1="163.00" x2="205.60" y2="163.00" stroke="#c8102e" stroke-width="0.8" />
<line x1="202.60" y1="174.40" x2="205.60" y2="174.40" stroke="#c8102e" stroke-width="0.8" />
<line x1="230.10" y1="155.60" x2="230.10" y2="163.00" stroke="#c8102e" stroke-width="0.8" />
<line x1="228.60" y1="155.60" x2="231.60" y2="155.60" stroke="#c8102e" stroke-width="0.8" />
<line x1="228.60" y1="163.00" x2="231.60" y2="163.00" stroke="#c8102e" stroke-width="0.8" />
<line x1="256.30" y1="156.80" x2="256.30" y2="165.80" stroke="#c8102e" stroke-width="0.8" />
<line x1="254.80" y1="156.80" x2="257.80" y2="156.80" stroke="#c8102e" stroke-width="0.8" />
<line x1="254.80" y1="165.80" x2="257.80" y2="165.80" stroke="#c8102e" stroke-width="0.8" />
<line x1="266.30" y1="160.40" x2="266.30" y2="170.60" stroke="#c8102e" stroke-width="0.8" />
<line x1="264.80" y1="160.40" x2="267.80" y2="160.40" stroke="#c8102e" stroke-width="0.8" />
<line x1="264.80" y1="170.60" x2="267.80" y2="170.60" stroke="#c8102e" stroke-width="0.8" />
<circle cx="204.10" cy="168.90" r="1.55" fill="#c8102e"/>
<circle cx="230.10" cy="159.30" r="1.55" fill="#c8102e"/>
<circle cx="256.30" cy="161.30" r="1.55" fill="#c8102e"/>
<circle cx="266.30" cy="165.50" r="1.55" fill="#c8102e"/>
<path d="M204.10,230.20 L230.10,230.20 L256.30,230.20 L266.30,230.20" fill="none" stroke="#5b1a78" stroke-width="1.3" stroke-linejoin="round"/>
<rect x="202.55" y="228.65" width="3.10" height="3.10" fill="#5b1a78"/>
<rect x="228.55" y="228.65" width="3.10" height="3.10" fill="#5b1a78"/>
<rect x="254.75" y="228.65" width="3.10" height="3.10" fill="#5b1a78"/>
<rect x="264.75" y="228.65" width="3.10" height="3.10" fill="#5b1a78"/>
<text x="270.20" y="151.30" font-size="6.5" class="l" textLength="9.60" lengthAdjust="spacingAndGlyphs" >n.s.</text>
<circle cx="272.00" cy="181.40" r="0.95" fill="#222"/>
<circle cx="274.45" cy="181.40" r="0.95" fill="#222"/>
<circle cx="276.90" cy="181.40" r="0.95" fill="#222"/>
<circle cx="271.40" cy="215.80" r="0.95" fill="#222"/>
<circle cx="273.85" cy="215.80" r="0.95" fill="#222"/>
<circle cx="276.30" cy="215.80" r="0.95" fill="#222"/>
<text x="7.20" y="278.00" font-size="10.8" font-weight="bold" fill="#000" >F</text>
<text x="14.40" y="333.50" font-size="7.8" class="h" text-anchor="middle" textLength="73.50" lengthAdjust="spacingAndGlyphs" transform="rotate(-90 14.40 333.50)" >Secondary transplantation</text>
<text x="25.40" y="333.50" font-size="7.8" class="h" text-anchor="middle" textLength="76.20" lengthAdjust="spacingAndGlyphs" transform="rotate(-90 25.40 333.50)" >donor leukocyte chimerism</text>
<text x="36.40" y="333.50" font-size="7.8" class="h" text-anchor="middle" textLength="104.60" lengthAdjust="spacingAndGlyphs" transform="rotate(-90 36.40 333.50)" >[%CD45.1 of total CD45.1 &amp; CD45.2]</text>
<line x1="60.10" y1="288.30" x2="60.10" y2="379.80" stroke="#111111" stroke-width="1.1" />
<line x1="57.50" y1="379.30" x2="60.10" y2="379.30" stroke="#111111" stroke-width="1.0" />
<text x="55.10" y="381.90" font-size="7.2" class="l" text-anchor="end" textLength="4.00" lengthAdjust="spacingAndGlyphs" >0</text>
<line x1="57.50" y1="361.88" x2="60.10" y2="361.88" stroke="#111111" stroke-width="1.0" />
<text x="55.10" y="364.48" font-size="7.2" class="l" text-anchor="end" textLength="8.10" lengthAdjust="spacingAndGlyphs" >20</text>
<line x1="57.50" y1="344.46" x2="60.10" y2="344.46" stroke="#111111" stroke-width="1.0" />
<text x="55.10" y="347.06" font-size="7.2" class="l" text-anchor="end" textLength="8.10" lengthAdjust="spacingAndGlyphs" >40</text>
<line x1="57.50" y1="327.04" x2="60.10" y2="327.04" stroke="#111111" stroke-width="1.0" />
<text x="55.10" y="329.64" font-size="7.2" class="l" text-anchor="end" textLength="8.10" lengthAdjust="spacingAndGlyphs" >60</text>
<line x1="57.50" y1="309.62" x2="60.10" y2="309.62" stroke="#111111" stroke-width="1.0" />
<text x="55.10" y="312.22" font-size="7.2" class="l" text-anchor="end" textLength="8.10" lengthAdjust="spacingAndGlyphs" >80</text>
<line x1="57.50" y1="292.20" x2="60.10" y2="292.20" stroke="#111111" stroke-width="1.0" />
<text x="55.10" y="294.80" font-size="7.2" class="l" text-anchor="end" textLength="12.30" lengthAdjust="spacingAndGlyphs" >100</text>
<line x1="57.50" y1="379.30" x2="132.50" y2="379.30" stroke="#111111" stroke-width="1.1" />
<line x1="66.60" y1="379.30" x2="66.60" y2="381.50" stroke="#111111" stroke-width="0.9" />
<line x1="86.40" y1="379.30" x2="86.40" y2="381.50" stroke="#111111" stroke-width="0.9" />
<line x1="106.30" y1="379.30" x2="106.30" y2="381.50" stroke="#111111" stroke-width="0.9" />
<line x1="125.60" y1="379.30" x2="125.60" y2="381.50" stroke="#111111" stroke-width="0.9" />
<text x="66.60" y="390.70" font-size="6.6" text-anchor="middle" textLength="3.60" lengthAdjust="spacingAndGlyphs" >4</text>
<text x="86.40" y="390.70" font-size="6.6" text-anchor="middle" textLength="3.60" lengthAdjust="spacingAndGlyphs" >8</text>
<text x="106.30" y="390.70" font-size="6.6" text-anchor="middle" textLength="7.20" lengthAdjust="spacingAndGlyphs" >12</text>
<text x="125.60" y="390.70" font-size="6.6" text-anchor="middle" textLength="7.20" lengthAdjust="spacingAndGlyphs" >16</text>
<text x="95.40" y="403.50" font-size="8.4" class="h" text-anchor="middle" textLength="62.90" lengthAdjust="spacingAndGlyphs" >Weeks post-transplant</text>
<path d="M66.60,339.00 L86.40,336.60 L106.30,331.10 L125.60,335.40" fill="none" stroke="#1b5a96" stroke-width="1.3" stroke-linejoin="round"/>
<line x1="66.60" y1="323.40" x2="66.60" y2="356.00" stroke="#1b5a96" stroke-width="0.8" />
<line x1="65.10" y1="323.40" x2="68.10" y2="323.40" stroke="#1b5a96" stroke-width="0.8" />
<line x1="65.10" y1="356.00" x2="68.10" y2="356.00" stroke="#1b5a96" stroke-width="0.8" />
<line x1="86.40" y1="318.00" x2="86.40" y2="362.00" stroke="#1b5a96" stroke-width="0.8" />
<line x1="84.90" y1="318.00" x2="87.90" y2="318.00" stroke="#1b5a96" stroke-width="0.8" />
<line x1="84.90" y1="362.00" x2="87.90" y2="362.00" stroke="#1b5a96" stroke-width="0.8" />
<line x1="106.30" y1="316.00" x2="106.30" y2="353.50" stroke="#1b5a96" stroke-width="0.8" />
<line x1="104.80" y1="316.00" x2="107.80" y2="316.00" stroke="#1b5a96" stroke-width="0.8" />
<line x1="104.80" y1="353.50" x2="107.80" y2="353.50" stroke="#1b5a96" stroke-width="0.8" />
<line x1="125.60" y1="315.70" x2="125.60" y2="354.70" stroke="#1b5a96" stroke-width="0.8" />
<line x1="124.10" y1="315.70" x2="127.10" y2="315.70" stroke="#1b5a96" stroke-width="0.8" />
<line x1="124.10" y1="354.70" x2="127.10" y2="354.70" stroke="#1b5a96" stroke-width="0.8" />
<circle cx="66.60" cy="339.00" r="1.55" fill="#1b5a96"/>
<circle cx="86.40" cy="336.60" r="1.55" fill="#1b5a96"/>
<circle cx="106.30" cy="331.10" r="1.55" fill="#1b5a96"/>
<circle cx="125.60" cy="335.40" r="1.55" fill="#1b5a96"/>
<path d="M66.60,371.10 L86.40,374.00 L106.30,374.50 L125.60,374.00" fill="none" stroke="#1b5a96" stroke-width="1.3" stroke-linejoin="round"/>
<line x1="66.60" y1="366.00" x2="66.60" y2="376.00" stroke="#1b5a96" stroke-width="0.8" />
<line x1="65.10" y1="366.00" x2="68.10" y2="366.00" stroke="#1b5a96" stroke-width="0.8" />
<line x1="65.10" y1="376.00" x2="68.10" y2="376.00" stroke="#1b5a96" stroke-width="0.8" />
<line x1="86.40" y1="370.00" x2="86.40" y2="378.00" stroke="#1b5a96" stroke-width="0.8" />
<line x1="84.90" y1="370.00" x2="87.90" y2="370.00" stroke="#1b5a96" stroke-width="0.8" />
<line x1="84.90" y1="378.00" x2="87.90" y2="378.00" stroke="#1b5a96" stroke-width="0.8" />
<line x1="106.30" y1="371.00" x2="106.30" y2="378.00" stroke="#1b5a96" stroke-width="0.8" />
<line x1="104.80" y1="371.00" x2="107.80" y2="371.00" stroke="#1b5a96" stroke-width="0.8" />
<line x1="104.80" y1="378.00" x2="107.80" y2="378.00" stroke="#1b5a96" stroke-width="0.8" />
<line x1="125.60" y1="371.00" x2="125.60" y2="377.00" stroke="#1b5a96" stroke-width="0.8" />
<line x1="124.10" y1="371.00" x2="127.10" y2="371.00" stroke="#1b5a96" stroke-width="0.8" />
<line x1="124.10" y1="377.00" x2="127.10" y2="377.00" stroke="#1b5a96" stroke-width="0.8" />
<rect x="65.05" y="369.55" width="3.10" height="3.10" fill="#1b5a96"/>
<rect x="84.85" y="372.45" width="3.10" height="3.10" fill="#1b5a96"/>
<rect x="104.75" y="372.95" width="3.10" height="3.10" fill="#1b5a96"/>
<rect x="124.05" y="372.45" width="3.10" height="3.10" fill="#1b5a96"/>
<path d="M66.60,312.50 L86.40,311.30 L106.30,311.30 L125.60,322.90" fill="none" stroke="#3ab54a" stroke-width="1.3" stroke-linejoin="round"/>
<line x1="66.60" y1="302.90" x2="66.60" y2="323.40" stroke="#3ab54a" stroke-width="0.8" />
<line x1="65.10" y1="302.90" x2="68.10" y2="302.90" stroke="#3ab54a" stroke-width="0.8" />
<line x1="65.10" y1="323.40" x2="68.10" y2="323.40" stroke="#3ab54a" stroke-width="0.8" />
<line x1="86.40" y1="304.80" x2="86.40" y2="318.20" stroke="#3ab54a" stroke-width="0.8" />
<line x1="84.90" y1="304.80" x2="87.90" y2="304.80" stroke="#3ab54a" stroke-width="0.8" />
<line x1="84.90" y1="318.20" x2="87.90" y2="318.20" stroke="#3ab54a" stroke-width="0.8" />
<line x1="106.30" y1="303.50" x2="106.30" y2="318.50" stroke="#3ab54a" stroke-width="0.8" />
<line x1="104.80" y1="303.50" x2="107.80" y2="303.50" stroke="#3ab54a" stroke-width="0.8" />
<line x1="104.80" y1="318.50" x2="107.80" y2="318.50" stroke="#3ab54a" stroke-width="0.8" />
<line x1="125.60" y1="318.60" x2="125.60" y2="327.00" stroke="#3ab54a" stroke-width="0.8" />
<line x1="124.10" y1="318.60" x2="127.10" y2="318.60" stroke="#3ab54a" stroke-width="0.8" />
<line x1="124.10" y1="327.00" x2="127.10" y2="327.00" stroke="#3ab54a" stroke-width="0.8" />
<rect x="65.05" y="310.95" width="3.10" height="3.10" fill="#3ab54a"/>
<rect x="84.85" y="309.75" width="3.10" height="3.10" fill="#3ab54a"/>
<rect x="104.75" y="309.75" width="3.10" height="3.10" fill="#3ab54a"/>
<rect x="124.05" y="321.35" width="3.10" height="3.10" fill="#3ab54a"/>
<path d="M66.60,293.30 L86.40,296.40 L106.30,293.30 L125.60,298.80" fill="none" stroke="#3ab54a" stroke-width="1.3" stroke-linejoin="round"/>
<line x1="125.60" y1="296.30" x2="125.60" y2="301.30" stroke="#3ab54a" stroke-width="0.8" />
<line x1="124.10" y1="296.30" x2="127.10" y2="296.30" stroke="#3ab54a" stroke-width="0.8" />
<line x1="124.10" y1="301.30" x2="127.10" y2="301.30" stroke="#3ab54a" stroke-width="0.8" />
<circle cx="66.60" cy="293.30" r="1.55" fill="#3ab54a"/>
<circle cx="86.40" cy="296.40" r="1.55" fill="#3ab54a"/>
<circle cx="106.30" cy="293.30" r="1.55" fill="#3ab54a"/>
<circle cx="125.60" cy="298.80" r="1.55" fill="#3ab54a"/>
<path d="M66.60,355.20 L86.40,356.60 L106.30,360.00 L125.60,362.40" fill="none" stroke="#c8102e" stroke-width="1.3" stroke-linejoin="round"/>
<line x1="66.60" y1="349.00" x2="66.60" y2="361.00" stroke="#c8102e" stroke-width="0.8" />
<line x1="65.10" y1="349.00" x2="68.10" y2="349.00" stroke="#c8102e" stroke-width="0.8" />
<line x1="65.10" y1="361.00" x2="68.10" y2="361.00" stroke="#c8102e" stroke-width="0.8" />
<line x1="86.40" y1="350.00" x2="86.40" y2="362.50" stroke="#c8102e" stroke-width="0.8" />
<line x1="84.90" y1="350.00" x2="87.90" y2="350.00" stroke="#c8102e" stroke-width="0.8" />
<line x1="84.90" y1="362.50" x2="87.90" y2="362.50" stroke="#c8102e" stroke-width="0.8" />
<line x1="106.30" y1="355.00" x2="106.30" y2="365.00" stroke="#c8102e" stroke-width="0.8" />
<line x1="104.80" y1="355.00" x2="107.80" y2="355.00" stroke="#c8102e" stroke-width="0.8" />
<line x1="104.80" y1="365.00" x2="107.80" y2="365.00" stroke="#c8102e" stroke-width="0.8" />
<line x1="125.60" y1="358.00" x2="125.60" y2="366.50" stroke="#c8102e" stroke-width="0.8" />
<line x1="124.10" y1="358.00" x2="127.10" y2="358.00" stroke="#c8102e" stroke-width="0.8" />
<line x1="124.10" y1="366.50" x2="127.10" y2="366.50" stroke="#c8102e" stroke-width="0.8" />
<rect x="65.05" y="353.65" width="3.10" height="3.10" fill="#c8102e"/>
<rect x="84.85" y="355.05" width="3.10" height="3.10" fill="#c8102e"/>
<rect x="104.75" y="358.45" width="3.10" height="3.10" fill="#c8102e"/>
<rect x="124.05" y="360.85" width="3.10" height="3.10" fill="#c8102e"/>
<path d="M66.60,314.90 L86.40,308.40 L106.30,308.90 L125.60,309.40" fill="none" stroke="#c8102e" stroke-width="1.3" stroke-linejoin="round"/>
<line x1="66.60" y1="308.40" x2="66.60" y2="322.90" stroke="#c8102e" stroke-width="0.8" />
<line x1="65.10" y1="308.40" x2="68.10" y2="308.40" stroke="#c8102e" stroke-width="0.8" />
<line x1="65.10" y1="322.90" x2="68.10" y2="322.90" stroke="#c8102e" stroke-width="0.8" />
<line x1="86.40" y1="301.70" x2="86.40" y2="316.50" stroke="#c8102e" stroke-width="0.8" />
<line x1="84.90" y1="301.70" x2="87.90" y2="301.70" stroke="#c8102e" stroke-width="0.8" />
<line x1="84.90" y1="316.50" x2="87.90" y2="316.50" stroke="#c8102e" stroke-width="0.8" />
<line x1="106.30" y1="302.90" x2="106.30" y2="315.70" stroke="#c8102e" stroke-width="0.8" />
<line x1="104.80" y1="302.90" x2="107.80" y2="302.90" stroke="#c8102e" stroke-width="0.8" />
<line x1="104.80" y1="315.70" x2="107.80" y2="315.70" stroke="#c8102e" stroke-width="0.8" />
<line x1="125.60" y1="304.10" x2="125.60" y2="315.70" stroke="#c8102e" stroke-width="0.8" />
<line x1="124.10" y1="304.10" x2="127.10" y2="304.10" stroke="#c8102e" stroke-width="0.8" />
<line x1="124.10" y1="315.70" x2="127.10" y2="315.70" stroke="#c8102e" stroke-width="0.8" />
<circle cx="66.60" cy="314.90" r="1.55" fill="#c8102e"/>
<circle cx="86.40" cy="308.40" r="1.55" fill="#c8102e"/>
<circle cx="106.30" cy="308.90" r="1.55" fill="#c8102e"/>
<circle cx="125.60" cy="309.40" r="1.55" fill="#c8102e"/>
<path d="M66.60,379.20 L86.40,379.20 L106.30,379.20 L125.60,379.20" fill="none" stroke="#5b1a78" stroke-width="1.3" stroke-linejoin="round"/>
<rect x="65.05" y="377.65" width="3.10" height="3.10" fill="#5b1a78"/>
<rect x="84.85" y="377.65" width="3.10" height="3.10" fill="#5b1a78"/>
<rect x="104.75" y="377.65" width="3.10" height="3.10" fill="#5b1a78"/>
<rect x="124.05" y="377.65" width="3.10" height="3.10" fill="#5b1a78"/>
<circle cx="130.00" cy="298.80" r="0.95" fill="#222"/>
<circle cx="132.45" cy="298.80" r="0.95" fill="#222"/>
<circle cx="130.00" cy="309.40" r="0.95" fill="#222"/>
<circle cx="132.45" cy="309.40" r="0.95" fill="#222"/>
<circle cx="134.90" cy="309.40" r="0.95" fill="#222"/>
<circle cx="130.00" cy="335.40" r="0.95" fill="#222"/>
<circle cx="132.45" cy="335.40" r="0.95" fill="#222"/>
<text x="140.90" y="278.00" font-size="10.8" font-weight="bold" fill="#000" >G</text>
<text x="152.90" y="333.50" font-size="7.8" class="h" text-anchor="middle" textLength="82.50" lengthAdjust="spacingAndGlyphs" transform="rotate(-90 152.90 333.50)" >Donor granulocyte chimerism</text>
<text x="163.90" y="333.50" font-size="7.8" class="h" text-anchor="middle" textLength="101.90" lengthAdjust="spacingAndGlyphs" transform="rotate(-90 163.90 333.50)" >[%CD45.1<tspan font-size="4.8" dy="-2.5">+</tspan><tspan dy="2.5">CD11b</tspan><tspan font-size="4.8" dy="-2.5">+</tspan><tspan dy="2.5">Ly-6C/G</tspan><tspan font-size="4.8" dy="-2.5">+</tspan><tspan dy="2.5"> of total</tspan></text>
<text x="174.70" y="333.50" font-size="7.8" class="h" text-anchor="middle" textLength="100.80" lengthAdjust="spacingAndGlyphs" transform="rotate(-90 174.70 333.50)" >CD45.1 &amp; CD45.2 CD11b<tspan font-size="4.8" dy="-2.5">+</tspan><tspan dy="2.5">Ly-6C/G</tspan><tspan font-size="4.8" dy="-2.5">+</tspan><tspan dy="2.5">]</tspan></text>
<line x1="196.20" y1="288.40" x2="196.20" y2="379.80" stroke="#111111" stroke-width="1.1" />
<line x1="193.60" y1="379.30" x2="196.20" y2="379.30" stroke="#111111" stroke-width="1.0" />
<text x="191.20" y="381.90" font-size="7.2" class="l" text-anchor="end" textLength="4.00" lengthAdjust="spacingAndGlyphs" >0</text>
<line x1="193.60" y1="361.80" x2="196.20" y2="361.80" stroke="#111111" stroke-width="1.0" />
<text x="191.20" y="364.40" font-size="7.2" class="l" text-anchor="end" textLength="8.10" lengthAdjust="spacingAndGlyphs" >20</text>
<line x1="193.60" y1="344.30" x2="196.20" y2="344.30" stroke="#111111" stroke-width="1.0" />
<text x="191.20" y="346.90" font-size="7.2" class="l" text-anchor="end" textLength="8.10" lengthAdjust="spacingAndGlyphs" >40</text>
<line x1="193.60" y1="326.80" x2="196.20" y2="326.80" stroke="#111111" stroke-width="1.0" />
<text x="191.20" y="329.40" font-size="7.2" class="l" text-anchor="end" textLength="8.10" lengthAdjust="spacingAndGlyphs" >60</text>
<line x1="193.60" y1="309.30" x2="196.20" y2="309.30" stroke="#111111" stroke-width="1.0" />
<text x="191.20" y="311.90" font-size="7.2" class="l" text-anchor="end" textLength="8.10" lengthAdjust="spacingAndGlyphs" >80</text>
<line x1="193.60" y1="291.80" x2="196.20" y2="291.80" stroke="#111111" stroke-width="1.0" />
<text x="191.20" y="294.40" font-size="7.2" class="l" text-anchor="end" textLength="12.30" lengthAdjust="spacingAndGlyphs" >100</text>
<line x1="193.60" y1="379.30" x2="270.00" y2="379.30" stroke="#111111" stroke-width="1.1" />
<line x1="202.40" y1="379.30" x2="202.40" y2="381.50" stroke="#111111" stroke-width="0.9" />
<line x1="222.30" y1="379.30" x2="222.30" y2="381.50" stroke="#111111" stroke-width="0.9" />
<line x1="241.80" y1="379.30" x2="241.80" y2="381.50" stroke="#111111" stroke-width="0.9" />
<line x1="261.70" y1="379.30" x2="261.70" y2="381.50" stroke="#111111" stroke-width="0.9" />
<text x="202.40" y="390.70" font-size="6.6" text-anchor="middle" textLength="3.60" lengthAdjust="spacingAndGlyphs" >4</text>
<text x="222.30" y="390.70" font-size="6.6" text-anchor="middle" textLength="3.60" lengthAdjust="spacingAndGlyphs" >8</text>
<text x="241.80" y="390.70" font-size="6.6" text-anchor="middle" textLength="7.20" lengthAdjust="spacingAndGlyphs" >12</text>
<text x="261.70" y="390.70" font-size="6.6" text-anchor="middle" textLength="7.20" lengthAdjust="spacingAndGlyphs" >16</text>
<text x="229.80" y="403.50" font-size="8.4" class="h" text-anchor="middle" textLength="62.60" lengthAdjust="spacingAndGlyphs" >Weeks post-transplant</text>
<path d="M202.40,339.00 L222.30,337.00 L241.80,332.50 L261.70,334.90" fill="none" stroke="#1b5a96" stroke-width="1.3" stroke-linejoin="round"/>
<line x1="202.40" y1="304.50" x2="202.40" y2="378.00" stroke="#1b5a96" stroke-width="0.8" />
<line x1="200.90" y1="304.50" x2="203.90" y2="304.50" stroke="#1b5a96" stroke-width="0.8" />
<line x1="200.90" y1="378.00" x2="203.90" y2="378.00" stroke="#1b5a96" stroke-width="0.8" />
<line x1="222.30" y1="305.00" x2="222.30" y2="364.00" stroke="#1b5a96" stroke-width="0.8" />
<line x1="220.80" y1="305.00" x2="223.80" y2="305.00" stroke="#1b5a96" stroke-width="0.8" />
<line x1="220.80" y1="364.00" x2="223.80" y2="364.00" stroke="#1b5a96" stroke-width="0.8" />
<line x1="241.80" y1="299.80" x2="241.80" y2="366.20" stroke="#1b5a96" stroke-width="0.8" />
<line x1="240.30" y1="299.80" x2="243.30" y2="299.80" stroke="#1b5a96" stroke-width="0.8" />
<line x1="240.30" y1="366.20" x2="243.30" y2="366.20" stroke="#1b5a96" stroke-width="0.8" />
<line x1="261.70" y1="303.60" x2="261.70" y2="364.70" stroke="#1b5a96" stroke-width="0.8" />
<line x1="260.20" y1="303.60" x2="263.20" y2="303.60" stroke="#1b5a96" stroke-width="0.8" />
<line x1="260.20" y1="364.70" x2="263.20" y2="364.70" stroke="#1b5a96" stroke-width="0.8" />
<circle cx="202.40" cy="339.00" r="1.55" fill="#1b5a96"/>
<circle cx="222.30" cy="337.00" r="1.55" fill="#1b5a96"/>
<circle cx="241.80" cy="332.50" r="1.55" fill="#1b5a96"/>
<circle cx="261.70" cy="334.90" r="1.55" fill="#1b5a96"/>
<path d="M202.40,376.30 L222.30,375.80 L241.80,375.50 L261.70,374.30" fill="none" stroke="#1b5a96" stroke-width="1.3" stroke-linejoin="round"/>
<line x1="202.40" y1="373.00" x2="202.40" y2="379.00" stroke="#1b5a96" stroke-width="0.8" />
<line x1="200.90" y1="373.00" x2="203.90" y2="373.00" stroke="#1b5a96" stroke-width="0.8" />
<line x1="200.90" y1="379.00" x2="203.90" y2="379.00" stroke="#1b5a96" stroke-width="0.8" />
<line x1="222.30" y1="373.00" x2="222.30" y2="378.50" stroke="#1b5a96" stroke-width="0.8" />
<line x1="220.80" y1="373.00" x2="223.80" y2="373.00" stroke="#1b5a96" stroke-width="0.8" />
<line x1="220.80" y1="378.50" x2="223.80" y2="378.50" stroke="#1b5a96" stroke-width="0.8" />
<line x1="241.80" y1="373.00" x2="241.80" y2="378.00" stroke="#1b5a96" stroke-width="0.8" />
<line x1="240.30" y1="373.00" x2="243.30" y2="373.00" stroke="#1b5a96" stroke-width="0.8" />
<line x1="240.30" y1="378.00" x2="243.30" y2="378.00" stroke="#1b5a96" stroke-width="0.8" />
<line x1="261.70" y1="372.00" x2="261.70" y2="377.00" stroke="#1b5a96" stroke-width="0.8" />
<line x1="260.20" y1="372.00" x2="263.20" y2="372.00" stroke="#1b5a96" stroke-width="0.8" />
<line x1="260.20" y1="377.00" x2="263.20" y2="377.00" stroke="#1b5a96" stroke-width="0.8" />
<rect x="200.85" y="374.75" width="3.10" height="3.10" fill="#1b5a96"/>
<rect x="220.75" y="374.25" width="3.10" height="3.10" fill="#1b5a96"/>
<rect x="240.25" y="373.95" width="3.10" height="3.10" fill="#1b5a96"/>
<rect x="260.15" y="372.75" width="3.10" height="3.10" fill="#1b5a96"/>
<path d="M202.40,302.20 L222.30,304.70 L241.80,306.90 L261.70,320.90" fill="none" stroke="#3ab54a" stroke-width="1.3" stroke-linejoin="round"/>
<line x1="202.40" y1="296.50" x2="202.40" y2="308.50" stroke="#3ab54a" stroke-width="0.8" />
<line x1="200.90" y1="296.50" x2="203.90" y2="296.50" stroke="#3ab54a" stroke-width="0.8" />
<line x1="200.90" y1="308.50" x2="203.90" y2="308.50" stroke="#3ab54a" stroke-width="0.8" />
<line x1="222.30" y1="298.50" x2="222.30" y2="311.60" stroke="#3ab54a" stroke-width="0.8" />
<line x1="220.80" y1="298.50" x2="223.80" y2="298.50" stroke="#3ab54a" stroke-width="0.8" />
<line x1="220.80" y1="311.60" x2="223.80" y2="311.60" stroke="#3ab54a" stroke-width="0.8" />
<line x1="241.80" y1="301.00" x2="241.80" y2="313.10" stroke="#3ab54a" stroke-width="0.8" />
<line x1="240.30" y1="301.00" x2="243.30" y2="301.00" stroke="#3ab54a" stroke-width="0.8" />
<line x1="240.30" y1="313.10" x2="243.30" y2="313.10" stroke="#3ab54a" stroke-width="0.8" />
<line x1="261.70" y1="315.00" x2="261.70" y2="326.60" stroke="#3ab54a" stroke-width="0.8" />
<line x1="260.20" y1="315.00" x2="263.20" y2="315.00" stroke="#3ab54a" stroke-width="0.8" />
<line x1="260.20" y1="326.60" x2="263.20" y2="326.60" stroke="#3ab54a" stroke-width="0.8" />
<rect x="200.85" y="300.65" width="3.10" height="3.10" fill="#3ab54a"/>
<rect x="220.75" y="303.15" width="3.10" height="3.10" fill="#3ab54a"/>
<rect x="240.25" y="305.35" width="3.10" height="3.10" fill="#3ab54a"/>
<rect x="260.15" y="319.35" width="3.10" height="3.10" fill="#3ab54a"/>
<path d="M202.40,292.80 L222.30,294.30 L241.80,292.50 L261.70,295.60" fill="none" stroke="#3ab54a" stroke-width="1.3" stroke-linejoin="round"/>
<line x1="261.70" y1="293.60" x2="261.70" y2="297.60" stroke="#3ab54a" stroke-width="0.8" />
<line x1="260.20" y1="293.60" x2="263.20" y2="293.60" stroke="#3ab54a" stroke-width="0.8" />
<line x1="260.20" y1="297.60" x2="263.20" y2="297.60" stroke="#3ab54a" stroke-width="0.8" />
<circle cx="202.40" cy="292.80" r="1.55" fill="#3ab54a"/>
<circle cx="222.30" cy="294.30" r="1.55" fill="#3ab54a"/>
<circle cx="241.80" cy="292.50" r="1.55" fill="#3ab54a"/>
<circle cx="261.70" cy="295.60" r="1.55" fill="#3ab54a"/>
<path d="M202.40,360.60 L222.30,368.60 L241.80,370.30 L261.70,369.00" fill="none" stroke="#c8102e" stroke-width="1.3" stroke-linejoin="round"/>
<line x1="202.40" y1="352.20" x2="202.40" y2="369.00" stroke="#c8102e" stroke-width="0.8" />
<line x1="200.90" y1="352.20" x2="203.90" y2="352.20" stroke="#c8102e" stroke-width="0.8" />
<line x1="200.90" y1="369.00" x2="203.90" y2="369.00" stroke="#c8102e" stroke-width="0.8" />
<line x1="222.30" y1="364.00" x2="222.30" y2="373.00" stroke="#c8102e" stroke-width="0.8" />
<line x1="220.80" y1="364.00" x2="223.80" y2="364.00" stroke="#c8102e" stroke-width="0.8" />
<line x1="220.80" y1="373.00" x2="223.80" y2="373.00" stroke="#c8102e" stroke-width="0.8" />
<line x1="241.80" y1="366.00" x2="241.80" y2="374.00" stroke="#c8102e" stroke-width="0.8" />
<line x1="240.30" y1="366.00" x2="243.30" y2="366.00" stroke="#c8102e" stroke-width="0.8" />
<line x1="240.30" y1="374.00" x2="243.30" y2="374.00" stroke="#c8102e" stroke-width="0.8" />
<line x1="261.70" y1="365.00" x2="261.70" y2="373.00" stroke="#c8102e" stroke-width="0.8" />
<line x1="260.20" y1="365.00" x2="263.20" y2="365.00" stroke="#c8102e" stroke-width="0.8" />
<line x1="260.20" y1="373.00" x2="263.20" y2="373.00" stroke="#c8102e" stroke-width="0.8" />
<rect x="200.85" y="359.05" width="3.10" height="3.10" fill="#c8102e"/>
<rect x="220.75" y="367.05" width="3.10" height="3.10" fill="#c8102e"/>
<rect x="240.25" y="368.75" width="3.10" height="3.10" fill="#c8102e"/>
<rect x="260.15" y="367.45" width="3.10" height="3.10" fill="#c8102e"/>
<path d="M202.40,319.10 L222.30,314.80 L241.80,321.00 L261.70,322.10" fill="none" stroke="#c8102e" stroke-width="1.3" stroke-linejoin="round"/>
<line x1="202.40" y1="311.40" x2="202.40" y2="327.20" stroke="#c8102e" stroke-width="0.8" />
<line x1="200.90" y1="311.40" x2="203.90" y2="311.40" stroke="#c8102e" stroke-width="0.8" />
<line x1="200.90" y1="327.20" x2="203.90" y2="327.20" stroke="#c8102e" stroke-width="0.8" />
<line x1="222.30" y1="305.10" x2="222.30" y2="325.10" stroke="#c8102e" stroke-width="0.8" />
<line x1="220.80" y1="305.10" x2="223.80" y2="305.10" stroke="#c8102e" stroke-width="0.8" />
<line x1="220.80" y1="325.10" x2="223.80" y2="325.10" stroke="#c8102e" stroke-width="0.8" />
<line x1="241.80" y1="310.00" x2="241.80" y2="331.00" stroke="#c8102e" stroke-width="0.8" />
<line x1="240.30" y1="310.00" x2="243.30" y2="310.00" stroke="#c8102e" stroke-width="0.8" />
<line x1="240.30" y1="331.00" x2="243.30" y2="331.00" stroke="#c8102e" stroke-width="0.8" />
<line x1="261.70" y1="311.30" x2="261.70" y2="333.00" stroke="#c8102e" stroke-width="0.8" />
<line x1="260.20" y1="311.30" x2="263.20" y2="311.30" stroke="#c8102e" stroke-width="0.8" />
<line x1="260.20" y1="333.00" x2="263.20" y2="333.00" stroke="#c8102e" stroke-width="0.8" />
<circle cx="202.40" cy="319.10" r="1.55" fill="#c8102e"/>
<circle cx="222.30" cy="314.80" r="1.55" fill="#c8102e"/>
<circle cx="241.80" cy="321.00" r="1.55" fill="#c8102e"/>
<circle cx="261.70" cy="322.10" r="1.55" fill="#c8102e"/>
<path d="M202.40,379.20 L222.30,379.20 L241.80,379.20 L261.70,379.20" fill="none" stroke="#5b1a78" stroke-width="1.3" stroke-linejoin="round"/>
<rect x="200.85" y="377.65" width="3.10" height="3.10" fill="#5b1a78"/>
<rect x="220.75" y="377.65" width="3.10" height="3.10" fill="#5b1a78"/>
<rect x="240.25" y="377.65" width="3.10" height="3.10" fill="#5b1a78"/>
<rect x="260.15" y="377.65" width="3.10" height="3.10" fill="#5b1a78"/>
<circle cx="270.00" cy="296.40" r="0.95" fill="#222"/>
<circle cx="272.45" cy="296.40" r="0.95" fill="#222"/>
<circle cx="270.00" cy="324.50" r="0.95" fill="#222"/>
<circle cx="272.45" cy="324.50" r="0.95" fill="#222"/>
<circle cx="272.30" cy="336.60" r="0.95" fill="#222"/>
<text x="308.30" y="123.60" font-size="10.8" font-weight="bold" fill="#000" >D</text>
<line x1="326.50" y1="128.90" x2="326.50" y2="226.90" stroke="#111111" stroke-width="1.1" />
<line x1="323.90" y1="226.40" x2="326.50" y2="226.40" stroke="#111111" stroke-width="1.0" />
<text x="321.50" y="229.00" font-size="7.2" class="l" text-anchor="end" textLength="4.00" lengthAdjust="spacingAndGlyphs" >0</text>
<line x1="323.90" y1="207.82" x2="326.50" y2="207.82" stroke="#111111" stroke-width="1.0" />
<text x="321.50" y="210.42" font-size="7.2" class="l" text-anchor="end" textLength="8.10" lengthAdjust="spacingAndGlyphs" >20</text>
<line x1="323.90" y1="189.24" x2="326.50" y2="189.24" stroke="#111111" stroke-width="1.0" />
<text x="321.50" y="191.84" font-size="7.2" class="l" text-anchor="end" textLength="8.10" lengthAdjust="spacingAndGlyphs" >40</text>
<line x1="323.90" y1="170.66" x2="326.50" y2="170.66" stroke="#111111" stroke-width="1.0" />
<text x="321.50" y="173.26" font-size="7.2" class="l" text-anchor="end" textLength="8.10" lengthAdjust="spacingAndGlyphs" >60</text>
<line x1="323.90" y1="152.08" x2="326.50" y2="152.08" stroke="#111111" stroke-width="1.0" />
<text x="321.50" y="154.68" font-size="7.2" class="l" text-anchor="end" textLength="8.10" lengthAdjust="spacingAndGlyphs" >80</text>
<line x1="323.90" y1="133.50" x2="326.50" y2="133.50" stroke="#111111" stroke-width="1.0" />
<text x="321.50" y="136.10" font-size="7.2" class="l" text-anchor="end" textLength="12.30" lengthAdjust="spacingAndGlyphs" >100</text>
<line x1="323.90" y1="226.40" x2="392.80" y2="226.40" stroke="#111111" stroke-width="1.1" />
<circle cx="332.20" cy="226.20" r="1.45" fill="#5b1a78"/>
<line x1="342.10" y1="216.10" x2="342.10" y2="223.70" stroke="#1b5a96" stroke-width="0.8" />
<line x1="340.50" y1="216.10" x2="343.70" y2="216.10" stroke="#1b5a96" stroke-width="0.8" />
<line x1="340.50" y1="223.70" x2="343.70" y2="223.70" stroke="#1b5a96" stroke-width="0.8" />
<rect x="340.65" y="218.55" width="2.90" height="2.90" fill="#1b5a96"/>
<line x1="350.40" y1="201.30" x2="350.40" y2="210.00" stroke="#1b5a96" stroke-width="0.8" />
<line x1="348.80" y1="201.30" x2="352.00" y2="201.30" stroke="#1b5a96" stroke-width="0.8" />
<line x1="348.80" y1="210.00" x2="352.00" y2="210.00" stroke="#1b5a96" stroke-width="0.8" />
<circle cx="350.40" cy="205.80" r="1.45" fill="#1b5a96"/>
<line x1="360.80" y1="211.10" x2="360.80" y2="221.10" stroke="#c8102e" stroke-width="0.8" />
<line x1="359.20" y1="211.10" x2="362.40" y2="211.10" stroke="#c8102e" stroke-width="0.8" />
<line x1="359.20" y1="221.10" x2="362.40" y2="221.10" stroke="#c8102e" stroke-width="0.8" />
<rect x="359.35" y="214.85" width="2.90" height="2.90" fill="#c8102e"/>
<line x1="369.10" y1="182.20" x2="369.10" y2="197.70" stroke="#c8102e" stroke-width="0.8" />
<line x1="367.50" y1="182.20" x2="370.70" y2="182.20" stroke="#c8102e" stroke-width="0.8" />
<line x1="367.50" y1="197.70" x2="370.70" y2="197.70" stroke="#c8102e" stroke-width="0.8" />
<circle cx="369.10" cy="190.10" r="1.45" fill="#c8102e"/>
<line x1="379.10" y1="142.90" x2="379.10" y2="163.20" stroke="#3ab54a" stroke-width="0.8" />
<line x1="377.50" y1="142.90" x2="380.70" y2="142.90" stroke="#3ab54a" stroke-width="0.8" />
<line x1="377.50" y1="163.20" x2="380.70" y2="163.20" stroke="#3ab54a" stroke-width="0.8" />
<rect x="377.65" y="151.75" width="2.90" height="2.90" fill="#3ab54a"/>
<line x1="387.00" y1="134.40" x2="387.00" y2="138.50" stroke="#3ab54a" stroke-width="0.8" />
<line x1="385.40" y1="134.40" x2="388.60" y2="134.40" stroke="#3ab54a" stroke-width="0.8" />
<line x1="385.40" y1="138.50" x2="388.60" y2="138.50" stroke="#3ab54a" stroke-width="0.8" />
<circle cx="387.00" cy="136.30" r="1.45" fill="#3ab54a"/>
<line x1="339.10" y1="198.50" x2="351.10" y2="198.50" stroke="#222" stroke-width="0.9" />
<text x="345.10" y="196.30" font-size="6.5" class="l" text-anchor="middle" textLength="9.60" lengthAdjust="spacingAndGlyphs" >n.s.</text>
<line x1="358.80" y1="176.60" x2="370.40" y2="176.60" stroke="#222" stroke-width="0.9" />
<circle cx="361.93" cy="173.00" r="0.95" fill="#222"/>
<circle cx="364.38" cy="173.00" r="0.95" fill="#222"/>
<circle cx="366.82" cy="173.00" r="0.95" fill="#222"/>
<line x1="376.00" y1="131.90" x2="388.30" y2="131.90" stroke="#222" stroke-width="0.9" />
<text x="381.60" y="129.50" font-size="6.5" class="l" text-anchor="middle" textLength="9.60" lengthAdjust="spacingAndGlyphs" >n.s.</text>
<text x="332.20" y="234.60" font-size="6.8" class="m" text-anchor="middle" textLength="9.20" lengthAdjust="spacingAndGlyphs" >ncc</text>
<text x="346.20" y="234.60" font-size="6.8" class="m" text-anchor="middle" textLength="11.60" lengthAdjust="spacingAndGlyphs" >CyBu</text>
<text x="346.00" y="244.30" font-size="8.0" class="m" text-anchor="middle" textLength="5.40" lengthAdjust="spacingAndGlyphs" >10</text>
<text x="364.90" y="234.60" font-size="6.8" class="m" text-anchor="middle" textLength="11.60" lengthAdjust="spacingAndGlyphs" >CyBu</text>
<text x="364.70" y="244.30" font-size="8.0" class="m" text-anchor="middle" textLength="5.40" lengthAdjust="spacingAndGlyphs" >30</text>
<text x="383.10" y="234.60" font-size="6.8" class="m" text-anchor="middle" textLength="11.60" lengthAdjust="spacingAndGlyphs" >CyBu</text>
<text x="382.90" y="244.30" font-size="8.0" class="m" text-anchor="middle" textLength="5.40" lengthAdjust="spacingAndGlyphs" >60</text>
<text x="427.80" y="123.50" font-size="10.8" font-weight="bold" fill="#000" >E</text>
<line x1="446.40" y1="128.90" x2="446.40" y2="226.90" stroke="#111111" stroke-width="1.1" />
<line x1="443.80" y1="226.40" x2="446.40" y2="226.40" stroke="#111111" stroke-width="1.0" />
<text x="441.40" y="229.00" font-size="7.2" class="l" text-anchor="end" textLength="4.00" lengthAdjust="spacingAndGlyphs" >0</text>
<line x1="443.80" y1="207.82" x2="446.40" y2="207.82" stroke="#111111" stroke-width="1.0" />
<text x="441.40" y="210.42" font-size="7.2" class="l" text-anchor="end" textLength="8.10" lengthAdjust="spacingAndGlyphs" >20</text>
<line x1="443.80" y1="189.24" x2="446.40" y2="189.24" stroke="#111111" stroke-width="1.0" />
<text x="441.40" y="191.84" font-size="7.2" class="l" text-anchor="end" textLength="8.10" lengthAdjust="spacingAndGlyphs" >40</text>
<line x1="443.80" y1="170.66" x2="446.40" y2="170.66" stroke="#111111" stroke-width="1.0" />
<text x="441.40" y="173.26" font-size="7.2" class="l" text-anchor="end" textLength="8.10" lengthAdjust="spacingAndGlyphs" >60</text>
<line x1="443.80" y1="152.08" x2="446.40" y2="152.08" stroke="#111111" stroke-width="1.0" />
<text x="441.40" y="154.68" font-size="7.2" class="l" text-anchor="end" textLength="8.10" lengthAdjust="spacingAndGlyphs" >80</text>
<line x1="443.80" y1="133.50" x2="446.40" y2="133.50" stroke="#111111" stroke-width="1.0" />
<text x="441.40" y="136.10" font-size="7.2" class="l" text-anchor="end" textLength="12.30" lengthAdjust="spacingAndGlyphs" >100</text>
<line x1="443.80" y1="226.40" x2="512.30" y2="226.40" stroke="#111111" stroke-width="1.1" />
<circle cx="451.90" cy="226.20" r="1.45" fill="#5b1a78"/>
<line x1="462.20" y1="216.10" x2="462.20" y2="223.90" stroke="#1b5a96" stroke-width="0.8" />
<line x1="460.60" y1="216.10" x2="463.80" y2="216.10" stroke="#1b5a96" stroke-width="0.8" />
<line x1="460.60" y1="223.90" x2="463.80" y2="223.90" stroke="#1b5a96" stroke-width="0.8" />
<rect x="460.75" y="218.35" width="2.90" height="2.90" fill="#1b5a96"/>
<line x1="470.20" y1="201.40" x2="470.20" y2="209.90" stroke="#1b5a96" stroke-width="0.8" />
<line x1="468.60" y1="201.40" x2="471.80" y2="201.40" stroke="#1b5a96" stroke-width="0.8" />
<line x1="468.60" y1="209.90" x2="471.80" y2="209.90" stroke="#1b5a96" stroke-width="0.8" />
<circle cx="470.20" cy="205.80" r="1.45" fill="#1b5a96"/>
<line x1="480.50" y1="211.00" x2="480.50" y2="221.60" stroke="#c8102e" stroke-width="0.8" />
<line x1="478.90" y1="211.00" x2="482.10" y2="211.00" stroke="#c8102e" stroke-width="0.8" />
<line x1="478.90" y1="221.60" x2="482.10" y2="221.60" stroke="#c8102e" stroke-width="0.8" />
<rect x="479.05" y="215.05" width="2.90" height="2.90" fill="#c8102e"/>
<line x1="488.70" y1="182.40" x2="488.70" y2="198.20" stroke="#c8102e" stroke-width="0.8" />
<line x1="487.10" y1="182.40" x2="490.30" y2="182.40" stroke="#c8102e" stroke-width="0.8" />
<line x1="487.10" y1="198.20" x2="490.30" y2="198.20" stroke="#c8102e" stroke-width="0.8" />
<circle cx="488.70" cy="190.00" r="1.45" fill="#c8102e"/>
<line x1="498.90" y1="142.90" x2="498.90" y2="163.30" stroke="#3ab54a" stroke-width="0.8" />
<line x1="497.30" y1="142.90" x2="500.50" y2="142.90" stroke="#3ab54a" stroke-width="0.8" />
<line x1="497.30" y1="163.30" x2="500.50" y2="163.30" stroke="#3ab54a" stroke-width="0.8" />
<rect x="497.45" y="151.75" width="2.90" height="2.90" fill="#3ab54a"/>
<line x1="507.00" y1="134.20" x2="507.00" y2="138.40" stroke="#3ab54a" stroke-width="0.8" />
<line x1="505.40" y1="134.20" x2="508.60" y2="134.20" stroke="#3ab54a" stroke-width="0.8" />
<line x1="505.40" y1="138.40" x2="508.60" y2="138.40" stroke="#3ab54a" stroke-width="0.8" />
<circle cx="507.00" cy="136.20" r="1.45" fill="#3ab54a"/>
<line x1="461.80" y1="199.20" x2="470.90" y2="199.20" stroke="#222" stroke-width="0.9" />
<circle cx="466.07" cy="195.60" r="0.95" fill="#222"/>
<line x1="478.30" y1="179.60" x2="490.40" y2="179.60" stroke="#222" stroke-width="0.9" />
<circle cx="484.17" cy="175.80" r="0.95" fill="#222"/>
<line x1="494.90" y1="131.80" x2="507.30" y2="131.80" stroke="#222" stroke-width="0.9" />
<text x="501.20" y="129.60" font-size="6.5" class="l" text-anchor="middle" textLength="9.60" lengthAdjust="spacingAndGlyphs" >n.s.</text>
<text x="451.90" y="234.60" font-size="6.8" class="m" text-anchor="middle" textLength="9.20" lengthAdjust="spacingAndGlyphs" >ncc</text>
<text x="466.20" y="234.60" font-size="6.8" class="m" text-anchor="middle" textLength="11.60" lengthAdjust="spacingAndGlyphs" >CyBu</text>
<text x="466.00" y="244.30" font-size="8.0" class="m" text-anchor="middle" textLength="5.40" lengthAdjust="spacingAndGlyphs" >10</text>
<text x="484.70" y="234.60" font-size="6.8" class="m" text-anchor="middle" textLength="11.60" lengthAdjust="spacingAndGlyphs" >CyBu</text>
<text x="484.50" y="244.30" font-size="8.0" class="m" text-anchor="middle" textLength="5.40" lengthAdjust="spacingAndGlyphs" >30</text>
<text x="503.00" y="234.60" font-size="6.8" class="m" text-anchor="middle" textLength="11.60" lengthAdjust="spacingAndGlyphs" >CyBu</text>
<text x="502.80" y="244.30" font-size="8.0" class="m" text-anchor="middle" textLength="5.40" lengthAdjust="spacingAndGlyphs" >60</text>
<text x="308.60" y="278.00" font-size="10.8" font-weight="bold" fill="#000" >H</text>
<line x1="327.00" y1="282.20" x2="327.00" y2="379.70" stroke="#111111" stroke-width="1.1" />
<line x1="324.40" y1="379.20" x2="327.00" y2="379.20" stroke="#111111" stroke-width="1.0" />
<text x="322.00" y="381.80" font-size="7.2" class="l" text-anchor="end" textLength="4.00" lengthAdjust="spacingAndGlyphs" >0</text>
<line x1="324.40" y1="360.44" x2="327.00" y2="360.44" stroke="#111111" stroke-width="1.0" />
<text x="322.00" y="363.04" font-size="7.2" class="l" text-anchor="end" textLength="8.10" lengthAdjust="spacingAndGlyphs" >20</text>
<line x1="324.40" y1="341.68" x2="327.00" y2="341.68" stroke="#111111" stroke-width="1.0" />
<text x="322.00" y="344.28" font-size="7.2" class="l" text-anchor="end" textLength="8.10" lengthAdjust="spacingAndGlyphs" >40</text>
<line x1="324.40" y1="322.92" x2="327.00" y2="322.92" stroke="#111111" stroke-width="1.0" />
<text x="322.00" y="325.52" font-size="7.2" class="l" text-anchor="end" textLength="8.10" lengthAdjust="spacingAndGlyphs" >60</text>
<line x1="324.40" y1="304.16" x2="327.00" y2="304.16" stroke="#111111" stroke-width="1.0" />
<text x="322.00" y="306.76" font-size="7.2" class="l" text-anchor="end" textLength="8.10" lengthAdjust="spacingAndGlyphs" >80</text>
<line x1="324.40" y1="285.40" x2="327.00" y2="285.40" stroke="#111111" stroke-width="1.0" />
<text x="322.00" y="288.00" font-size="7.2" class="l" text-anchor="end" textLength="12.30" lengthAdjust="spacingAndGlyphs" >100</text>
<line x1="324.40" y1="379.20" x2="388.10" y2="379.20" stroke="#111111" stroke-width="1.1" />
<line x1="331.10" y1="379.20" x2="331.10" y2="381.40" stroke="#111111" stroke-width="0.9" />
<line x1="342.40" y1="379.20" x2="342.40" y2="381.40" stroke="#111111" stroke-width="0.9" />
<line x1="348.80" y1="379.20" x2="348.80" y2="381.40" stroke="#111111" stroke-width="0.9" />
<line x1="359.60" y1="379.20" x2="359.60" y2="381.40" stroke="#111111" stroke-width="0.9" />
<line x1="365.90" y1="379.20" x2="365.90" y2="381.40" stroke="#111111" stroke-width="0.9" />
<line x1="376.70" y1="379.20" x2="376.70" y2="381.40" stroke="#111111" stroke-width="0.9" />
<line x1="383.20" y1="379.20" x2="383.20" y2="381.40" stroke="#111111" stroke-width="0.9" />
<circle cx="331.10" cy="379.00" r="1.45" fill="#5b1a78"/>
<line x1="342.40" y1="373.10" x2="342.40" y2="377.30" stroke="#1b5a96" stroke-width="0.8" />
<line x1="340.80" y1="373.10" x2="344.00" y2="373.10" stroke="#1b5a96" stroke-width="0.8" />
<line x1="340.80" y1="377.30" x2="344.00" y2="377.30" stroke="#1b5a96" stroke-width="0.8" />
<rect x="340.95" y="373.85" width="2.90" height="2.90" fill="#1b5a96"/>
<line x1="348.80" y1="341.60" x2="348.80" y2="357.30" stroke="#1b5a96" stroke-width="0.8" />
<line x1="347.20" y1="341.60" x2="350.40" y2="341.60" stroke="#1b5a96" stroke-width="0.8" />
<line x1="347.20" y1="357.30" x2="350.40" y2="357.30" stroke="#1b5a96" stroke-width="0.8" />
<circle cx="348.80" cy="349.30" r="1.45" fill="#1b5a96"/>
<line x1="359.60" y1="367.30" x2="359.60" y2="373.10" stroke="#c8102e" stroke-width="0.8" />
<line x1="358.00" y1="367.30" x2="361.20" y2="367.30" stroke="#c8102e" stroke-width="0.8" />
<line x1="358.00" y1="373.10" x2="361.20" y2="373.10" stroke="#c8102e" stroke-width="0.8" />
<rect x="358.15" y="368.75" width="2.90" height="2.90" fill="#c8102e"/>
<line x1="365.90" y1="299.30" x2="365.90" y2="317.30" stroke="#c8102e" stroke-width="0.8" />
<line x1="364.30" y1="299.30" x2="367.50" y2="299.30" stroke="#c8102e" stroke-width="0.8" />
<line x1="364.30" y1="317.30" x2="367.50" y2="317.30" stroke="#c8102e" stroke-width="0.8" />
<circle cx="365.90" cy="308.40" r="1.45" fill="#c8102e"/>
<line x1="376.70" y1="306.00" x2="376.70" y2="320.90" stroke="#3ab54a" stroke-width="0.8" />
<line x1="375.10" y1="306.00" x2="378.30" y2="306.00" stroke="#3ab54a" stroke-width="0.8" />
<line x1="375.10" y1="320.90" x2="378.30" y2="320.90" stroke="#3ab54a" stroke-width="0.8" />
<rect x="375.25" y="312.25" width="2.90" height="2.90" fill="#3ab54a"/>
<line x1="383.20" y1="290.00" x2="383.20" y2="293.20" stroke="#3ab54a" stroke-width="0.8" />
<line x1="381.60" y1="290.00" x2="384.80" y2="290.00" stroke="#3ab54a" stroke-width="0.8" />
<line x1="381.60" y1="293.20" x2="384.80" y2="293.20" stroke="#3ab54a" stroke-width="0.8" />
<circle cx="383.20" cy="291.60" r="1.45" fill="#3ab54a"/>
<line x1="340.80" y1="338.00" x2="348.80" y2="338.00" stroke="#222" stroke-width="0.9" />
<circle cx="344.57" cy="334.50" r="0.95" fill="#222"/>
<line x1="358.70" y1="296.80" x2="367.80" y2="296.80" stroke="#222" stroke-width="0.9" />
<circle cx="360.52" cy="292.80" r="0.95" fill="#222"/>
<circle cx="362.97" cy="292.80" r="0.95" fill="#222"/>
<circle cx="365.42" cy="292.80" r="0.95" fill="#222"/>
<line x1="376.70" y1="286.50" x2="385.20" y2="286.50" stroke="#222" stroke-width="0.9" />
<circle cx="380.77" cy="282.60" r="0.95" fill="#222"/>
<text x="331.10" y="391.10" font-size="6.8" class="m" text-anchor="middle" textLength="9.20" lengthAdjust="spacingAndGlyphs" >ncc</text>
<text x="345.40" y="391.10" font-size="6.8" class="m" text-anchor="middle" textLength="11.60" lengthAdjust="spacingAndGlyphs" >CyBu</text>
<text x="345.20" y="400.80" font-size="8.0" class="m" text-anchor="middle" textLength="5.40" lengthAdjust="spacingAndGlyphs" >10</text>
<text x="363.10" y="391.10" font-size="6.8" class="m" text-anchor="middle" textLength="11.60" lengthAdjust="spacingAndGlyphs" >CyBu</text>
<text x="362.90" y="400.80" font-size="8.0" class="m" text-anchor="middle" textLength="5.40" lengthAdjust="spacingAndGlyphs" >30</text>
<text x="380.30" y="391.10" font-size="6.8" class="m" text-anchor="middle" textLength="11.60" lengthAdjust="spacingAndGlyphs" >CyBu</text>
<text x="380.10" y="400.80" font-size="8.0" class="m" text-anchor="middle" textLength="5.40" lengthAdjust="spacingAndGlyphs" >60</text>
<text x="428.00" y="278.00" font-size="10.8" font-weight="bold" fill="#000" >I</text>
<line x1="446.40" y1="281.10" x2="446.40" y2="379.70" stroke="#111111" stroke-width="1.1" />
<line x1="443.80" y1="379.20" x2="446.40" y2="379.20" stroke="#111111" stroke-width="1.0" />
<text x="441.40" y="381.80" font-size="7.2" class="l" text-anchor="end" textLength="4.00" lengthAdjust="spacingAndGlyphs" >0</text>
<line x1="443.80" y1="360.44" x2="446.40" y2="360.44" stroke="#111111" stroke-width="1.0" />
<text x="441.40" y="363.04" font-size="7.2" class="l" text-anchor="end" textLength="8.10" lengthAdjust="spacingAndGlyphs" >20</text>
<line x1="443.80" y1="341.68" x2="446.40" y2="341.68" stroke="#111111" stroke-width="1.0" />
<text x="441.40" y="344.28" font-size="7.2" class="l" text-anchor="end" textLength="8.10" lengthAdjust="spacingAndGlyphs" >40</text>
<line x1="443.80" y1="322.92" x2="446.40" y2="322.92" stroke="#111111" stroke-width="1.0" />
<text x="441.40" y="325.52" font-size="7.2" class="l" text-anchor="end" textLength="8.10" lengthAdjust="spacingAndGlyphs" >60</text>
<line x1="443.80" y1="304.16" x2="446.40" y2="304.16" stroke="#111111" stroke-width="1.0" />
<text x="441.40" y="306.76" font-size="7.2" class="l" text-anchor="end" textLength="8.10" lengthAdjust="spacingAndGlyphs" >80</text>
<line x1="443.80" y1="285.40" x2="446.40" y2="285.40" stroke="#111111" stroke-width="1.0" />
<text x="441.40" y="288.00" font-size="7.2" class="l" text-anchor="end" textLength="12.30" lengthAdjust="spacingAndGlyphs" >100</text>
<line x1="443.80" y1="379.20" x2="508.60" y2="379.20" stroke="#111111" stroke-width="1.1" />
<line x1="450.40" y1="379.20" x2="450.40" y2="381.40" stroke="#111111" stroke-width="0.9" />
<line x1="462.30" y1="379.20" x2="462.30" y2="381.40" stroke="#111111" stroke-width="0.9" />
<line x1="468.50" y1="379.20" x2="468.50" y2="381.40" stroke="#111111" stroke-width="0.9" />
<line x1="480.10" y1="379.20" x2="480.10" y2="381.40" stroke="#111111" stroke-width="0.9" />
<line x1="486.40" y1="379.20" x2="486.40" y2="381.40" stroke="#111111" stroke-width="0.9" />
<line x1="497.60" y1="379.20" x2="497.60" y2="381.40" stroke="#111111" stroke-width="0.9" />
<line x1="504.10" y1="379.20" x2="504.10" y2="381.40" stroke="#111111" stroke-width="0.9" />
<circle cx="450.40" cy="379.00" r="1.45" fill="#5b1a78"/>
<line x1="462.30" y1="376.00" x2="462.30" y2="379.00" stroke="#1b5a96" stroke-width="0.8" />
<line x1="460.70" y1="376.00" x2="463.90" y2="376.00" stroke="#1b5a96" stroke-width="0.8" />
<line x1="460.70" y1="379.00" x2="463.90" y2="379.00" stroke="#1b5a96" stroke-width="0.8" />
<rect x="460.85" y="375.95" width="2.90" height="2.90" fill="#1b5a96"/>
<line x1="468.50" y1="353.40" x2="468.50" y2="360.60" stroke="#1b5a96" stroke-width="0.8" />
<line x1="466.90" y1="353.40" x2="470.10" y2="353.40" stroke="#1b5a96" stroke-width="0.8" />
<line x1="466.90" y1="360.60" x2="470.10" y2="360.60" stroke="#1b5a96" stroke-width="0.8" />
<circle cx="468.50" cy="357.00" r="1.45" fill="#1b5a96"/>
<line x1="480.10" y1="370.50" x2="480.10" y2="375.30" stroke="#c8102e" stroke-width="0.8" />
<line x1="478.50" y1="370.50" x2="481.70" y2="370.50" stroke="#c8102e" stroke-width="0.8" />
<line x1="478.50" y1="375.30" x2="481.70" y2="375.30" stroke="#c8102e" stroke-width="0.8" />
<rect x="478.65" y="371.95" width="2.90" height="2.90" fill="#c8102e"/>
<line x1="486.40" y1="309.40" x2="486.40" y2="337.30" stroke="#c8102e" stroke-width="0.8" />
<line x1="484.80" y1="309.40" x2="488.00" y2="309.40" stroke="#c8102e" stroke-width="0.8" />
<line x1="484.80" y1="337.30" x2="488.00" y2="337.30" stroke="#c8102e" stroke-width="0.8" />
<circle cx="486.40" cy="323.30" r="1.45" fill="#c8102e"/>
<line x1="497.60" y1="314.90" x2="497.60" y2="337.30" stroke="#3ab54a" stroke-width="0.8" />
<line x1="496.00" y1="314.90" x2="499.20" y2="314.90" stroke="#3ab54a" stroke-width="0.8" />
<line x1="496.00" y1="337.30" x2="499.20" y2="337.30" stroke="#3ab54a" stroke-width="0.8" />
<rect x="496.15" y="324.75" width="2.90" height="2.90" fill="#3ab54a"/>
<line x1="504.10" y1="288.00" x2="504.10" y2="291.20" stroke="#3ab54a" stroke-width="0.8" />
<line x1="502.50" y1="288.00" x2="505.70" y2="288.00" stroke="#3ab54a" stroke-width="0.8" />
<line x1="502.50" y1="291.20" x2="505.70" y2="291.20" stroke="#3ab54a" stroke-width="0.8" />
<circle cx="504.10" cy="289.60" r="1.45" fill="#3ab54a"/>
<line x1="461.40" y1="346.90" x2="469.50" y2="346.90" stroke="#222" stroke-width="0.9" />
<circle cx="464.05" cy="343.00" r="0.95" fill="#222"/>
<circle cx="466.50" cy="343.00" r="0.95" fill="#222"/>
<line x1="478.20" y1="304.50" x2="487.10" y2="304.50" stroke="#222" stroke-width="0.9" />
<circle cx="481.15" cy="300.70" r="0.95" fill="#222"/>
<circle cx="483.60" cy="300.70" r="0.95" fill="#222"/>
<line x1="496.70" y1="284.80" x2="504.70" y2="284.80" stroke="#222" stroke-width="0.9" />
<circle cx="500.47" cy="281.20" r="0.95" fill="#222"/>
<text x="450.80" y="390.90" font-size="6.8" class="m" text-anchor="middle" textLength="9.20" lengthAdjust="spacingAndGlyphs" >ncc</text>
<text x="465.40" y="390.90" font-size="6.8" class="m" text-anchor="middle" textLength="11.60" lengthAdjust="spacingAndGlyphs" >CyBu</text>
<text x="465.20" y="400.60" font-size="8.0" class="m" text-anchor="middle" textLength="5.40" lengthAdjust="spacingAndGlyphs" >10</text>
<text x="483.40" y="390.90" font-size="6.8" class="m" text-anchor="middle" textLength="11.60" lengthAdjust="spacingAndGlyphs" >CyBu</text>
<text x="483.20" y="400.60" font-size="8.0" class="m" text-anchor="middle" textLength="5.40" lengthAdjust="spacingAndGlyphs" >30</text>
<text x="501.20" y="390.90" font-size="6.8" class="m" text-anchor="middle" textLength="11.60" lengthAdjust="spacingAndGlyphs" >CyBu</text>
<text x="501.00" y="400.60" font-size="8.0" class="m" text-anchor="middle" textLength="5.40" lengthAdjust="spacingAndGlyphs" >60</text>
<line x1="304.70" y1="130.20" x2="304.70" y2="379.30" stroke="#444" stroke-width="0.9" />
<line x1="424.40" y1="130.40" x2="424.40" y2="379.30" stroke="#444" stroke-width="0.9" />
<text x="288.70" y="254.60" font-size="7.8" class="h" text-anchor="middle" textLength="76.20" lengthAdjust="spacingAndGlyphs" transform="rotate(-90 288.70 254.60)" >Donor LSK<tspan font-size="4.8" dy="-2.5">+</tspan><tspan dy="2.5"> cell chimerism</tspan></text>
<text x="299.90" y="254.50" font-size="7.8" class="h" text-anchor="middle" textLength="109.80" lengthAdjust="spacingAndGlyphs" transform="rotate(-90 299.90 254.50)" >[% of all CD45.1 &amp; CD45.2 LSK<tspan font-size="4.8" dy="-2.5">+</tspan><tspan dy="2.5"> cells]</tspan></text>
<text x="408.70" y="254.60" font-size="7.8" class="h" text-anchor="middle" textLength="122.40" lengthAdjust="spacingAndGlyphs" transform="rotate(-90 408.70 254.60)" >Donor LSK<tspan font-size="4.8" dy="-2.5">+</tspan><tspan dy="2.5">CD34</tspan><tspan font-size="4.8" dy="-2.5">−</tspan><tspan dy="2.5">CD150</tspan><tspan font-size="4.8" dy="-2.5">+</tspan><tspan dy="2.5">CD48</tspan><tspan font-size="4.8" dy="-2.5">−</tspan><tspan dy="2.5"> chimerism</tspan></text>
<text x="419.60" y="255.30" font-size="7.8" class="h" text-anchor="middle" textLength="172.00" lengthAdjust="spacingAndGlyphs" transform="rotate(-90 419.60 255.30)" >[% of all CD45.1 and CD45.2 LSK<tspan font-size="4.8" dy="-2.5">+</tspan><tspan dy="2.5">CD34</tspan><tspan font-size="4.8" dy="-2.5">−</tspan><tspan dy="2.5">CD150</tspan><tspan font-size="4.8" dy="-2.5">+</tspan><tspan dy="2.5">CD48</tspan><tspan font-size="4.8" dy="-2.5">−</tspan><tspan dy="2.5"> cells]</tspan></text>
<line x1="15.90" y1="415.60" x2="24.20" y2="415.60" stroke="#5b1a78" stroke-width="1.1" />
<rect x="18.70" y="414.25" width="2.70" height="2.70" fill="#5b1a78"/>
<text x="28.00" y="417.80" font-size="7.3" class="lg" textLength="81.20" lengthAdjust="spacingAndGlyphs" >Non conditioned ctrl. (ncc)</text>
<line x1="119.20" y1="415.80" x2="127.50" y2="415.80" stroke="#1b5a96" stroke-width="1.1" />
<rect x="122.00" y="414.45" width="2.70" height="2.70" fill="#1b5a96"/>
<text x="131.20" y="418.00" font-size="7.3" class="lg" textLength="113.40" lengthAdjust="spacingAndGlyphs" >Cyclophosphamide-busulfan 10 PBS</text>
<line x1="119.20" y1="427.10" x2="127.50" y2="427.10" stroke="#1b5a96" stroke-width="1.1" />
<circle cx="123.35" cy="427.10" r="1.35" fill="#1b5a96"/>
<text x="131.20" y="429.30" font-size="7.3" class="lg" textLength="112.30" lengthAdjust="spacingAndGlyphs" >Cyclophosphamide-busulfan 10 RPL</text>
<line x1="252.60" y1="415.60" x2="260.90" y2="415.60" stroke="#c8102e" stroke-width="1.1" />
<rect x="255.40" y="414.25" width="2.70" height="2.70" fill="#c8102e"/>
<text x="263.80" y="417.80" font-size="7.3" class="lg" textLength="114.30" lengthAdjust="spacingAndGlyphs" >Cyclophosphamide-busulfan 30 PBS</text>
<line x1="252.60" y1="427.10" x2="260.90" y2="427.10" stroke="#c8102e" stroke-width="1.1" />
<circle cx="256.75" cy="427.10" r="1.35" fill="#c8102e"/>
<text x="263.80" y="429.30" font-size="7.3" class="lg" textLength="112.70" lengthAdjust="spacingAndGlyphs" >Cyclophosphamide-busulfan 30 RPL</text>
<line x1="386.10" y1="415.60" x2="394.40" y2="415.60" stroke="#3ab54a" stroke-width="1.1" />
<rect x="388.90" y="414.25" width="2.70" height="2.70" fill="#3ab54a"/>
<text x="397.70" y="417.80" font-size="7.3" class="lg" textLength="114.10" lengthAdjust="spacingAndGlyphs" >Cyclophosphamide-busulfan 60 PBS</text>
<line x1="386.10" y1="427.10" x2="394.40" y2="427.10" stroke="#3ab54a" stroke-width="1.1" />
<circle cx="390.25" cy="427.10" r="1.35" fill="#3ab54a"/>
<text x="397.70" y="429.30" font-size="7.3" class="lg" textLength="112.90" lengthAdjust="spacingAndGlyphs" >Cyclophosphamide-busulfan 60 RPL</text>
<line x1="0.00" y1="0.50" x2="520.00" y2="0.50" stroke="#000" stroke-width="1.2" />
<line x1="0.50" y1="0.00" x2="0.50" y2="436.00" stroke="#000" stroke-width="1.2" />
<line x1="519.50" y1="0.00" x2="519.50" y2="436.00" stroke="#000" stroke-width="1.1" />
<line x1="0.00" y1="435.40" x2="520.00" y2="435.40" stroke="#000" stroke-width="1.3" />
</svg>
</body></html>
